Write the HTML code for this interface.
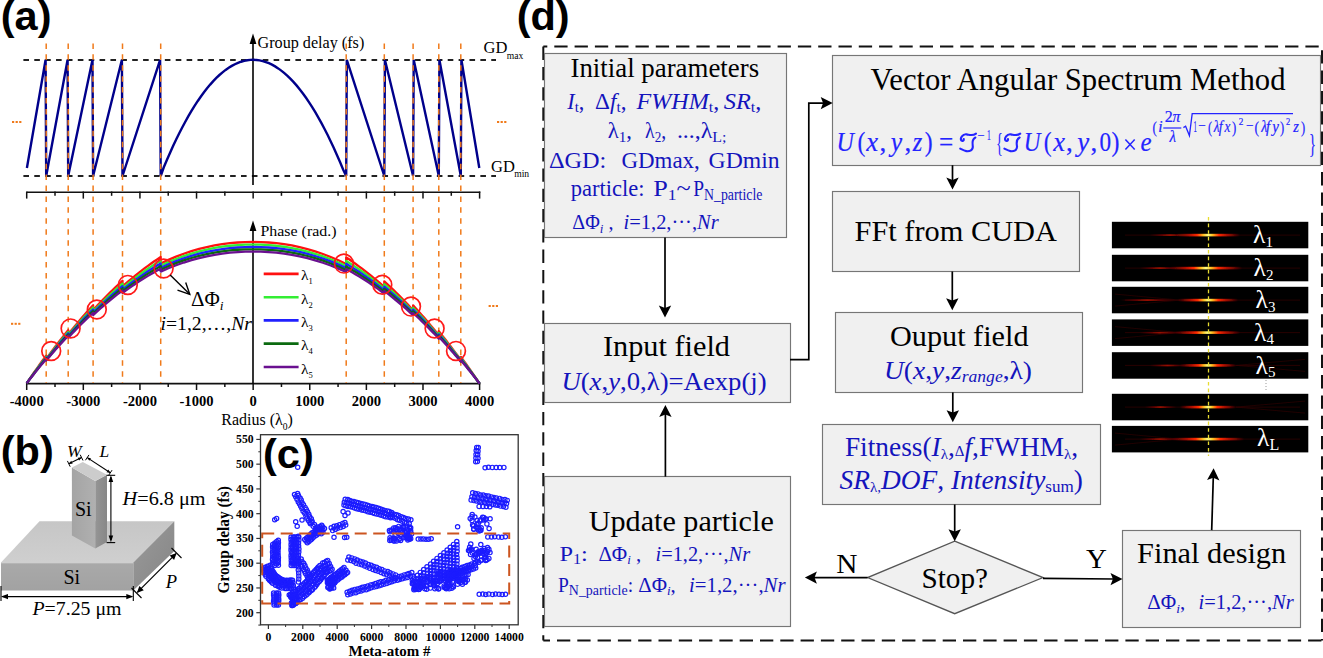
<!DOCTYPE html>
<html><head><meta charset="utf-8"><style>
html,body{margin:0;padding:0;background:#fff;width:1323px;height:658px;overflow:hidden}
svg{display:block}
</style></head><body>
<svg width="1323" height="658" viewBox="0 0 1323 658">
<rect width="1323" height="658" fill="#fff"/>
<text x="0.8" y="29.8" font-family='"Liberation Sans", sans-serif' font-size="41.5" font-weight="bold">(a)</text>
<line x1="23.40" y1="59.90" x2="496.00" y2="59.90" stroke="#222" stroke-width="2" stroke-dasharray="5.6 5.28"/>
<line x1="23.40" y1="176.00" x2="496.00" y2="176.00" stroke="#222" stroke-width="2" stroke-dasharray="5.6 5.28"/>
<line x1="253.00" y1="40.00" x2="253.00" y2="185.00" stroke="#000" stroke-width="1.6" />
<polygon points="253.00,33.50 249.60,44.00 256.40,44.00" fill="#000" stroke="none" stroke-width="0" />
<text x="257.5" y="47.5" font-family='"Liberation Serif", serif' font-size="16.3" font-weight="normal" font-style="normal" fill="#000" text-anchor="start" textLength="106.8" lengthAdjust="spacingAndGlyphs">Group delay (fs)</text>
<text x="483.5" y="52.8" font-family='"Liberation Serif", serif' font-size="16.5" font-weight="normal" font-style="normal" fill="#000" text-anchor="start" >GD</text>
<text x="506.8" y="58.6" font-family='"Liberation Serif", serif' font-size="9.6" font-weight="normal" font-style="normal" fill="#000" text-anchor="start" >max</text>
<text x="491" y="171.8" font-family='"Liberation Serif", serif' font-size="16.5" font-weight="normal" font-style="normal" fill="#000" text-anchor="start" >GD</text>
<text x="514.2" y="177.2" font-family='"Liberation Serif", serif' font-size="9.6" font-weight="normal" font-style="normal" fill="#000" text-anchor="start" >min</text>
<rect x="12.00" y="121.00" width="2.2" height="2" fill="#f07a1a"/>
<rect x="15.60" y="121.00" width="2.2" height="2" fill="#f07a1a"/>
<rect x="19.20" y="121.00" width="2.2" height="2" fill="#f07a1a"/>
<rect x="497.00" y="121.00" width="2.2" height="2" fill="#f07a1a"/>
<rect x="500.60" y="121.00" width="2.2" height="2" fill="#f07a1a"/>
<rect x="504.20" y="121.00" width="2.2" height="2" fill="#f07a1a"/>
<polyline points="26.90,168.00 45.60,59.80 46.20,176.00 67.60,59.80 68.20,176.00 92.50,59.80 93.10,176.00 121.90,59.80 122.50,176.00 160.10,59.80 160.70,176.00 163.79,167.30 166.88,159.97 169.97,152.91 173.07,146.10 176.16,139.56 179.25,133.27 182.34,127.24 185.43,121.47 188.52,115.95 191.62,110.70 194.71,105.70 197.80,100.96 200.89,96.48 203.98,92.25 207.07,88.29 210.17,84.58 213.26,81.13 216.35,77.94 219.44,75.01 222.53,72.34 225.62,69.92 228.72,67.77 231.81,65.87 234.90,64.23 237.99,62.84 241.08,61.72 244.17,60.85 247.27,60.24 250.36,59.89 253.45,59.80 256.54,59.97 259.63,60.39 262.73,61.08 265.82,62.02 268.91,63.22 272.00,64.68 275.09,66.39 278.18,68.37 281.27,70.60 284.37,73.09 287.46,75.84 290.55,78.85 293.64,82.11 296.73,85.63 299.82,89.42 302.92,93.46 306.01,97.75 309.10,102.31 312.19,107.13 315.28,112.20 318.38,117.53 321.47,123.12 324.56,128.97 327.65,135.07 330.74,141.44 333.83,148.06 336.92,154.94 340.02,162.08 343.11,169.48 346.20,176.00 346.80,59.80 384.30,176.00 384.90,59.80 413.10,176.00 413.70,59.80 438.80,176.00 439.40,59.80 460.80,176.00 461.40,59.80 479.30,168.00" stroke="#00008b" stroke-width="2.4" fill="none" stroke-linejoin="miter" stroke-miterlimit="3"/>
<line x1="26.70" y1="192.20" x2="480.30" y2="192.20" stroke="#111" stroke-width="1.6" />
<line x1="26.70" y1="191.50" x2="26.70" y2="198.60" stroke="#111" stroke-width="1.5" />
<line x1="55.01" y1="191.50" x2="55.01" y2="195.80" stroke="#111" stroke-width="1.5" />
<line x1="83.31" y1="191.50" x2="83.31" y2="198.60" stroke="#111" stroke-width="1.5" />
<line x1="111.62" y1="191.50" x2="111.62" y2="195.80" stroke="#111" stroke-width="1.5" />
<line x1="139.93" y1="191.50" x2="139.93" y2="198.60" stroke="#111" stroke-width="1.5" />
<line x1="168.23" y1="191.50" x2="168.23" y2="195.80" stroke="#111" stroke-width="1.5" />
<line x1="196.54" y1="191.50" x2="196.54" y2="198.60" stroke="#111" stroke-width="1.5" />
<line x1="224.84" y1="191.50" x2="224.84" y2="195.80" stroke="#111" stroke-width="1.5" />
<line x1="253.15" y1="191.50" x2="253.15" y2="198.60" stroke="#111" stroke-width="1.5" />
<line x1="281.46" y1="191.50" x2="281.46" y2="195.80" stroke="#111" stroke-width="1.5" />
<line x1="309.76" y1="191.50" x2="309.76" y2="198.60" stroke="#111" stroke-width="1.5" />
<line x1="338.07" y1="191.50" x2="338.07" y2="195.80" stroke="#111" stroke-width="1.5" />
<line x1="366.38" y1="191.50" x2="366.38" y2="198.60" stroke="#111" stroke-width="1.5" />
<line x1="394.68" y1="191.50" x2="394.68" y2="195.80" stroke="#111" stroke-width="1.5" />
<line x1="422.99" y1="191.50" x2="422.99" y2="198.60" stroke="#111" stroke-width="1.5" />
<line x1="451.29" y1="191.50" x2="451.29" y2="195.80" stroke="#111" stroke-width="1.5" />
<line x1="479.60" y1="191.50" x2="479.60" y2="198.60" stroke="#111" stroke-width="1.5" />
<line x1="26.70" y1="383.60" x2="480.30" y2="383.60" stroke="#111" stroke-width="1.6" />
<line x1="26.70" y1="382.90" x2="26.70" y2="390.00" stroke="#111" stroke-width="1.5" />
<line x1="55.01" y1="382.90" x2="55.01" y2="387.00" stroke="#111" stroke-width="1.5" />
<line x1="83.31" y1="382.90" x2="83.31" y2="390.00" stroke="#111" stroke-width="1.5" />
<line x1="111.62" y1="382.90" x2="111.62" y2="387.00" stroke="#111" stroke-width="1.5" />
<line x1="139.93" y1="382.90" x2="139.93" y2="390.00" stroke="#111" stroke-width="1.5" />
<line x1="168.23" y1="382.90" x2="168.23" y2="387.00" stroke="#111" stroke-width="1.5" />
<line x1="196.54" y1="382.90" x2="196.54" y2="390.00" stroke="#111" stroke-width="1.5" />
<line x1="224.84" y1="382.90" x2="224.84" y2="387.00" stroke="#111" stroke-width="1.5" />
<line x1="253.15" y1="382.90" x2="253.15" y2="390.00" stroke="#111" stroke-width="1.5" />
<line x1="281.46" y1="382.90" x2="281.46" y2="387.00" stroke="#111" stroke-width="1.5" />
<line x1="309.76" y1="382.90" x2="309.76" y2="390.00" stroke="#111" stroke-width="1.5" />
<line x1="338.07" y1="382.90" x2="338.07" y2="387.00" stroke="#111" stroke-width="1.5" />
<line x1="366.38" y1="382.90" x2="366.38" y2="390.00" stroke="#111" stroke-width="1.5" />
<line x1="394.68" y1="382.90" x2="394.68" y2="387.00" stroke="#111" stroke-width="1.5" />
<line x1="422.99" y1="382.90" x2="422.99" y2="390.00" stroke="#111" stroke-width="1.5" />
<line x1="451.29" y1="382.90" x2="451.29" y2="387.00" stroke="#111" stroke-width="1.5" />
<line x1="479.60" y1="382.90" x2="479.60" y2="390.00" stroke="#111" stroke-width="1.5" />
<text x="26.7" y="405.8" font-family='"Liberation Serif", serif' font-size="14.6" font-weight="bold" font-style="normal" fill="#000" text-anchor="middle" >-4000</text>
<text x="83.3125" y="405.8" font-family='"Liberation Serif", serif' font-size="14.6" font-weight="bold" font-style="normal" fill="#000" text-anchor="middle" >-3000</text>
<text x="139.925" y="405.8" font-family='"Liberation Serif", serif' font-size="14.6" font-weight="bold" font-style="normal" fill="#000" text-anchor="middle" >-2000</text>
<text x="196.5375" y="405.8" font-family='"Liberation Serif", serif' font-size="14.6" font-weight="bold" font-style="normal" fill="#000" text-anchor="middle" >-1000</text>
<text x="253.15" y="405.8" font-family='"Liberation Serif", serif' font-size="14.6" font-weight="bold" font-style="normal" fill="#000" text-anchor="middle" >0</text>
<text x="309.7625" y="405.8" font-family='"Liberation Serif", serif' font-size="14.6" font-weight="bold" font-style="normal" fill="#000" text-anchor="middle" >1000</text>
<text x="366.375" y="405.8" font-family='"Liberation Serif", serif' font-size="14.6" font-weight="bold" font-style="normal" fill="#000" text-anchor="middle" >2000</text>
<text x="422.9875" y="405.8" font-family='"Liberation Serif", serif' font-size="14.6" font-weight="bold" font-style="normal" fill="#000" text-anchor="middle" >3000</text>
<text x="479.6" y="405.8" font-family='"Liberation Serif", serif' font-size="14.6" font-weight="bold" font-style="normal" fill="#000" text-anchor="middle" >4000</text>
<text x="221.3" y="425.0" font-family='"Liberation Serif", serif' font-size="15.8" font-weight="normal" font-style="normal" fill="#000" text-anchor="start" textLength="71.6" lengthAdjust="spacingAndGlyphs">Radius (λ<tspan font-size="9.5" dy="4.5">0</tspan><tspan dy="-4.5">)</tspan></text>
<line x1="253.00" y1="226.00" x2="253.00" y2="383.60" stroke="#000" stroke-width="1.6" />
<polygon points="253.00,220.50 249.60,231.00 256.40,231.00" fill="#000" stroke="none" stroke-width="0" />
<text x="260.5" y="236.3" font-family='"Liberation Serif", serif' font-size="15.5" font-weight="normal" font-style="normal" fill="#000" text-anchor="start" textLength="76" lengthAdjust="spacingAndGlyphs">Phase (rad.)</text>
<line x1="46.20" y1="43.40" x2="46.20" y2="383.00" stroke="#f07a1a" stroke-width="1.5" stroke-dasharray="5.5 5.43"/>
<line x1="68.20" y1="43.40" x2="68.20" y2="383.00" stroke="#f07a1a" stroke-width="1.5" stroke-dasharray="5.5 5.43"/>
<line x1="93.10" y1="43.40" x2="93.10" y2="383.00" stroke="#f07a1a" stroke-width="1.5" stroke-dasharray="5.5 5.43"/>
<line x1="122.50" y1="43.40" x2="122.50" y2="383.00" stroke="#f07a1a" stroke-width="1.5" stroke-dasharray="5.5 5.43"/>
<line x1="160.70" y1="43.40" x2="160.70" y2="383.00" stroke="#f07a1a" stroke-width="1.5" stroke-dasharray="5.5 5.43"/>
<line x1="346.20" y1="43.40" x2="346.20" y2="383.00" stroke="#f07a1a" stroke-width="1.5" stroke-dasharray="5.5 5.43"/>
<line x1="384.30" y1="43.40" x2="384.30" y2="383.00" stroke="#f07a1a" stroke-width="1.5" stroke-dasharray="5.5 5.43"/>
<line x1="413.10" y1="43.40" x2="413.10" y2="383.00" stroke="#f07a1a" stroke-width="1.5" stroke-dasharray="5.5 5.43"/>
<line x1="438.80" y1="43.40" x2="438.80" y2="383.00" stroke="#f07a1a" stroke-width="1.5" stroke-dasharray="5.5 5.43"/>
<line x1="460.80" y1="43.40" x2="460.80" y2="383.00" stroke="#f07a1a" stroke-width="1.5" stroke-dasharray="5.5 5.43"/>
<polyline points="26.70,383.21 28.32,380.81 29.95,378.44 31.57,376.08 33.20,373.74 34.83,371.42 36.45,369.11 38.08,366.82 39.70,364.54 41.33,362.28 42.95,360.04 44.58,357.82 46.20,355.61 46.20,358.86 48.03,356.36 49.87,353.88 51.70,351.41 53.53,348.97 55.37,346.56 57.20,344.16 59.03,341.78 60.87,339.43 62.70,337.09 64.53,334.78 66.37,332.49 68.20,330.21 68.20,334.28 70.28,331.71 72.35,329.17 74.42,326.65 76.50,324.16 78.58,321.70 80.65,319.27 82.72,316.86 84.80,314.48 86.88,312.12 88.95,309.79 91.02,307.49 93.10,305.22 93.10,310.09 95.55,307.45 98.00,304.84 100.45,302.26 102.90,299.73 105.35,297.23 107.80,294.77 110.25,292.34 112.70,289.95 115.15,287.60 117.60,285.28 120.05,283.00 122.50,280.76 122.50,286.44 125.68,283.65 128.87,280.93 132.05,278.26 135.23,275.66 138.42,273.11 141.60,270.63 144.78,268.20 147.97,265.84 151.15,263.53 154.33,261.29 157.52,259.10 160.70,256.98 160.70,263.48 168.39,259.89 176.08,256.64 183.77,253.74 191.47,251.17 199.16,248.92 206.85,247.01 214.54,245.42 222.23,244.14 229.93,243.17 237.62,242.50 245.31,242.12 253.00,242.00 253.00,242.00 260.77,242.12 268.53,242.51 276.30,243.19 284.07,244.18 291.83,245.49 299.60,247.11 307.37,249.07 315.13,251.35 322.90,253.98 330.67,256.95 338.43,260.26 346.20,263.92 346.20,257.42 349.38,259.56 352.55,261.75 355.73,264.01 358.90,266.33 362.07,268.70 365.25,271.14 368.43,273.64 371.60,276.19 374.77,278.81 377.95,281.48 381.12,284.22 384.30,287.02 384.30,281.33 386.70,283.55 389.10,285.80 391.50,288.09 393.90,290.42 396.30,292.77 398.70,295.17 401.10,297.60 403.50,300.06 405.90,302.56 408.30,305.10 410.70,307.67 413.10,310.27 413.10,305.40 415.24,307.73 417.38,310.10 419.53,312.50 421.67,314.92 423.81,317.37 425.95,319.85 428.09,322.36 430.23,324.90 432.38,327.46 434.52,330.05 436.66,332.68 438.80,335.33 438.80,331.27 440.63,333.55 442.47,335.85 444.30,338.18 446.13,340.52 447.97,342.89 449.80,345.28 451.63,347.69 453.47,350.12 455.30,352.57 457.13,355.04 458.97,357.54 460.80,360.05 460.80,356.80 462.37,358.95 463.93,361.11 465.50,363.29 467.07,365.49 468.63,367.70 470.20,369.92 471.77,372.16 473.33,374.42 474.90,376.69 476.47,378.98 478.03,381.28 479.60,383.60" stroke="#ff1010" stroke-width="2.3" fill="none" stroke-linejoin="round"/>
<polyline points="26.70,383.21 28.32,380.92 29.95,378.63 31.57,376.37 33.20,374.12 34.83,371.89 36.45,369.67 38.08,367.47 39.70,365.29 41.33,363.12 42.95,360.97 44.58,358.83 46.20,356.72 46.20,359.32 48.03,356.92 49.87,354.54 51.70,352.19 53.53,349.86 55.37,347.54 57.20,345.25 59.03,342.98 60.87,340.73 62.70,338.50 64.53,336.29 66.37,334.10 68.20,331.93 68.20,335.18 70.28,332.73 72.35,330.31 74.42,327.92 76.50,325.55 78.58,323.21 80.65,320.89 82.72,318.60 84.80,316.34 86.88,314.10 88.95,311.89 91.02,309.70 93.10,307.54 93.10,311.44 95.55,308.93 98.00,306.45 100.45,304.02 102.90,301.61 105.35,299.24 107.80,296.91 110.25,294.62 112.70,292.36 115.15,290.13 117.60,287.95 120.05,285.79 122.50,283.68 122.50,288.23 125.68,285.59 128.87,283.01 132.05,280.49 135.23,278.03 138.42,275.63 141.60,273.29 144.78,271.01 147.97,268.79 151.15,266.62 154.33,264.52 157.52,262.47 160.70,260.48 160.70,265.68 168.39,262.16 176.08,258.98 183.77,256.12 191.47,253.60 199.16,251.40 206.85,249.52 214.54,247.95 222.23,246.70 229.93,245.75 237.62,245.09 245.31,244.71 253.00,244.60 253.00,244.60 260.77,244.72 268.53,245.10 276.30,245.77 284.07,246.74 291.83,248.02 299.60,249.62 307.37,251.54 315.13,253.78 322.90,256.36 330.67,259.27 338.43,262.52 346.20,266.12 346.20,260.92 349.38,262.92 352.55,264.98 355.73,267.09 358.90,269.27 362.07,271.50 365.25,273.80 368.43,276.15 371.60,278.56 374.77,281.03 377.95,283.55 381.12,286.14 384.30,288.79 384.30,284.24 386.70,286.33 389.10,288.46 391.50,290.62 393.90,292.82 396.30,295.04 398.70,297.31 401.10,299.61 403.50,301.94 405.90,304.31 408.30,306.71 410.70,309.15 413.10,311.62 413.10,307.72 415.24,309.94 417.38,312.19 419.53,314.47 421.67,316.77 423.81,319.10 425.95,321.46 428.09,323.85 430.23,326.27 432.38,328.71 434.52,331.19 436.66,333.69 438.80,336.21 438.80,332.96 440.63,335.14 442.47,337.34 444.30,339.57 446.13,341.81 447.97,344.07 449.80,346.35 451.63,348.66 453.47,350.98 455.30,353.32 457.13,355.69 458.97,358.08 460.80,360.48 460.80,357.88 462.37,359.94 463.93,362.02 465.50,364.11 467.07,366.21 468.63,368.33 470.20,370.47 471.77,372.62 473.33,374.78 474.90,376.96 476.47,379.16 478.03,381.37 479.60,383.60" stroke="#33ee33" stroke-width="2.3" fill="none" stroke-linejoin="round"/>
<polyline points="26.70,383.22 28.32,381.00 29.95,378.79 31.57,376.59 33.20,374.42 34.83,372.26 36.45,370.11 38.08,367.98 39.70,365.87 41.33,363.78 42.95,361.70 44.58,359.63 46.20,357.59 46.20,359.74 48.03,357.42 49.87,355.13 51.70,352.86 53.53,350.61 55.37,348.38 57.20,346.17 59.03,343.98 60.87,341.81 62.70,339.66 64.53,337.53 66.37,335.42 68.20,333.33 68.20,336.02 70.28,333.66 72.35,331.33 74.42,329.03 76.50,326.75 78.58,324.50 80.65,322.28 82.72,320.08 84.80,317.90 86.88,315.75 88.95,313.63 91.02,311.53 93.10,309.46 93.10,312.69 95.55,310.28 98.00,307.90 100.45,305.57 102.90,303.26 105.35,301.00 107.80,298.76 110.25,296.57 112.70,294.41 115.15,292.28 117.60,290.19 120.05,288.13 122.50,286.11 122.50,289.87 125.68,287.35 128.87,284.88 132.05,282.47 135.23,280.12 138.42,277.83 141.60,275.60 144.78,273.43 147.97,271.31 151.15,269.25 154.33,267.25 157.52,265.30 160.70,263.42 160.70,267.72 168.39,264.26 176.08,261.13 183.77,258.32 191.47,255.84 199.16,253.68 206.85,251.83 214.54,250.30 222.23,249.06 229.93,248.13 237.62,247.48 245.31,247.11 253.00,247.00 253.00,247.00 260.77,247.11 268.53,247.49 276.30,248.15 284.07,249.10 291.83,250.36 299.60,251.93 307.37,253.82 315.13,256.02 322.90,258.56 330.67,261.42 338.43,264.61 346.20,268.14 346.20,263.84 349.38,265.74 352.55,267.70 355.73,269.71 358.90,271.78 362.07,273.91 365.25,276.10 368.43,278.34 371.60,280.64 374.77,283.00 377.95,285.42 381.12,287.89 384.30,290.43 384.30,286.66 386.70,288.66 389.10,290.69 391.50,292.76 393.90,294.86 396.30,296.99 398.70,299.15 401.10,301.35 403.50,303.59 405.90,305.85 408.30,308.16 410.70,310.49 413.10,312.86 413.10,309.64 415.24,311.77 417.38,313.93 419.53,316.12 421.67,318.33 423.81,320.57 425.95,322.84 428.09,325.14 430.23,327.46 432.38,329.81 434.52,332.19 436.66,334.60 438.80,337.03 438.80,334.35 440.63,336.45 442.47,338.56 444.30,340.71 446.13,342.87 447.97,345.05 449.80,347.25 451.63,349.47 453.47,351.71 455.30,353.97 457.13,356.26 458.97,358.56 460.80,360.88 460.80,358.73 462.37,360.72 463.93,362.73 465.50,364.75 467.07,366.78 468.63,368.83 470.20,370.90 471.77,372.98 473.33,375.07 474.90,377.18 476.47,379.31 478.03,381.45 479.60,383.60" stroke="#2020ff" stroke-width="2.3" fill="none" stroke-linejoin="round"/>
<polyline points="26.70,383.23 28.32,381.07 29.95,378.92 31.57,376.79 33.20,374.68 34.83,372.58 36.45,370.50 38.08,368.43 39.70,366.38 41.33,364.35 42.95,362.33 44.58,360.32 46.20,358.34 46.20,360.14 48.03,357.90 49.87,355.68 51.70,353.47 53.53,351.29 55.37,349.13 57.20,346.99 59.03,344.87 60.87,342.77 62.70,340.69 64.53,338.63 66.37,336.59 68.20,334.57 68.20,336.82 70.28,334.54 72.35,332.29 74.42,330.07 76.50,327.87 78.58,325.69 80.65,323.55 82.72,321.42 84.80,319.32 86.88,317.25 88.95,315.20 91.02,313.18 93.10,311.18 93.10,313.88 95.55,311.56 98.00,309.27 100.45,307.02 102.90,304.80 105.35,302.62 107.80,300.47 110.25,298.35 112.70,296.27 115.15,294.23 117.60,292.22 120.05,290.24 122.50,288.30 122.50,291.45 125.68,289.02 128.87,286.65 132.05,284.33 135.23,282.08 138.42,279.88 141.60,277.73 144.78,275.65 147.97,273.62 151.15,271.65 154.33,269.73 157.52,267.87 160.70,266.07 160.70,269.67 168.39,266.27 176.08,263.19 183.77,260.43 191.47,257.99 199.16,255.87 206.85,254.05 214.54,252.54 222.23,251.33 229.93,250.41 237.62,249.77 245.31,249.41 253.00,249.30 253.00,249.30 260.77,249.41 268.53,249.78 276.30,250.43 284.07,251.37 291.83,252.61 299.60,254.15 307.37,256.00 315.13,258.17 322.90,260.66 330.67,263.47 338.43,266.62 346.20,270.09 346.20,266.49 349.38,268.30 352.55,270.17 355.73,272.10 358.90,274.08 362.07,276.12 365.25,278.22 368.43,280.37 371.60,282.58 374.77,284.85 377.95,287.17 381.12,289.56 384.30,292.00 384.30,288.85 386.70,290.76 389.10,292.71 391.50,294.70 393.90,296.72 396.30,298.77 398.70,300.85 401.10,302.97 403.50,305.12 405.90,307.30 408.30,309.52 410.70,311.77 413.10,314.05 413.10,311.35 415.24,313.41 417.38,315.49 419.53,317.60 421.67,319.74 423.81,321.91 425.95,324.10 428.09,326.32 430.23,328.56 432.38,330.84 434.52,333.14 436.66,335.46 438.80,337.82 438.80,335.57 440.63,337.60 442.47,339.65 444.30,341.72 446.13,343.81 447.97,345.92 449.80,348.06 451.63,350.21 453.47,352.38 455.30,354.57 457.13,356.78 458.97,359.01 460.80,361.27 460.80,359.47 462.37,361.40 463.93,363.34 465.50,365.30 467.07,367.27 468.63,369.26 470.20,371.27 471.77,373.29 473.33,375.32 474.90,377.37 476.47,379.43 478.03,381.51 479.60,383.60" stroke="#0b6a10" stroke-width="2.3" fill="none" stroke-linejoin="round"/>
<polyline points="26.70,383.23 28.32,381.13 29.95,379.04 31.57,376.97 33.20,374.92 34.83,372.88 36.45,370.86 38.08,368.85 39.70,366.85 41.33,364.88 42.95,362.92 44.58,360.97 46.20,359.04 46.20,360.54 48.03,358.36 49.87,356.21 51.70,354.08 53.53,351.96 55.37,349.86 57.20,347.79 59.03,345.73 60.87,343.70 62.70,341.68 64.53,339.68 66.37,337.70 68.20,335.75 68.20,337.62 70.28,335.42 72.35,333.24 74.42,331.09 76.50,328.96 78.58,326.85 80.65,324.78 82.72,322.72 84.80,320.69 86.88,318.69 88.95,316.71 91.02,314.76 93.10,312.83 93.10,315.08 95.55,312.83 98.00,310.62 100.45,308.45 102.90,306.31 105.35,304.20 107.80,302.13 110.25,300.09 112.70,298.08 115.15,296.11 117.60,294.18 120.05,292.27 122.50,290.40 122.50,293.03 125.68,290.69 128.87,288.40 132.05,286.17 135.23,283.99 138.42,281.88 141.60,279.82 144.78,277.81 147.97,275.86 151.15,273.97 154.33,272.13 157.52,270.35 160.70,268.62 160.70,271.62 168.39,268.28 176.08,265.25 183.77,262.54 191.47,260.14 199.16,258.05 206.85,256.27 214.54,254.78 222.23,253.59 229.93,252.69 237.62,252.06 245.31,251.71 253.00,251.60 253.00,251.60 260.77,251.71 268.53,252.07 276.30,252.71 284.07,253.63 291.83,254.85 299.60,256.37 307.37,258.19 315.13,260.32 322.90,262.77 330.67,265.53 338.43,268.62 346.20,272.03 346.20,269.03 349.38,270.77 352.55,272.56 355.73,274.41 358.90,276.32 362.07,278.28 365.25,280.29 368.43,282.37 371.60,284.49 374.77,286.68 377.95,288.92 381.12,291.21 384.30,293.56 384.30,290.94 386.70,292.79 389.10,294.66 391.50,296.57 393.90,298.52 396.30,300.49 398.70,302.50 401.10,304.54 403.50,306.62 405.90,308.72 408.30,310.86 410.70,313.04 413.10,315.24 413.10,312.99 415.24,314.98 417.38,317.00 419.53,319.04 421.67,321.11 423.81,323.20 425.95,325.32 428.09,327.47 430.23,329.64 432.38,331.84 434.52,334.07 436.66,336.32 438.80,338.60 438.80,336.73 440.63,338.69 442.47,340.68 444.30,342.69 446.13,344.72 447.97,346.77 449.80,348.83 451.63,350.92 453.47,353.03 455.30,355.15 457.13,357.30 458.97,359.46 460.80,361.65 460.80,360.15 462.37,362.02 463.93,363.91 465.50,365.82 467.07,367.73 468.63,369.67 470.20,371.61 471.77,373.57 473.33,375.55 474.90,377.54 476.47,379.55 478.03,381.57 479.60,383.60" stroke="#6a1090" stroke-width="2.3" fill="none" stroke-linejoin="round"/>
<line x1="263.70" y1="273.90" x2="298.60" y2="273.90" stroke="#ff1010" stroke-width="2.6" />
<text x="301" y="280.4" font-family='"Liberation Serif", serif' font-size="15.5" font-weight="normal" font-style="normal" fill="#000" text-anchor="start" >λ<tspan font-size="8.5" dy="4">1</tspan></text>
<line x1="263.70" y1="297.20" x2="298.60" y2="297.20" stroke="#33ee33" stroke-width="2.6" />
<text x="301" y="303.7" font-family='"Liberation Serif", serif' font-size="15.5" font-weight="normal" font-style="normal" fill="#000" text-anchor="start" >λ<tspan font-size="8.5" dy="4">2</tspan></text>
<line x1="263.70" y1="320.40" x2="298.60" y2="320.40" stroke="#2020ff" stroke-width="2.6" />
<text x="301" y="326.9" font-family='"Liberation Serif", serif' font-size="15.5" font-weight="normal" font-style="normal" fill="#000" text-anchor="start" >λ<tspan font-size="8.5" dy="4">3</tspan></text>
<line x1="263.70" y1="343.60" x2="298.60" y2="343.60" stroke="#0b6a10" stroke-width="2.6" />
<text x="301" y="350.1" font-family='"Liberation Serif", serif' font-size="15.5" font-weight="normal" font-style="normal" fill="#000" text-anchor="start" >λ<tspan font-size="8.5" dy="4">4</tspan></text>
<line x1="263.70" y1="367.00" x2="298.60" y2="367.00" stroke="#6a1090" stroke-width="2.6" />
<text x="301" y="373.5" font-family='"Liberation Serif", serif' font-size="15.5" font-weight="normal" font-style="normal" fill="#000" text-anchor="start" >λ<tspan font-size="8.5" dy="4">5</tspan></text>
<circle cx="51.2" cy="351" r="9.4" fill="none" stroke="#ff1a1a" stroke-width="1.7"/>
<circle cx="70.6" cy="328.4" r="9.4" fill="none" stroke="#ff1a1a" stroke-width="1.7"/>
<circle cx="96.8" cy="309.5" r="9.4" fill="none" stroke="#ff1a1a" stroke-width="1.7"/>
<circle cx="127.8" cy="284.9" r="9.4" fill="none" stroke="#ff1a1a" stroke-width="1.7"/>
<circle cx="163.6" cy="268.5" r="9.4" fill="none" stroke="#ff1a1a" stroke-width="1.7"/>
<circle cx="343.9" cy="263.6" r="9.4" fill="none" stroke="#ff1a1a" stroke-width="1.7"/>
<circle cx="382.3" cy="284.7" r="9.4" fill="none" stroke="#ff1a1a" stroke-width="1.7"/>
<circle cx="411" cy="306.6" r="9.4" fill="none" stroke="#ff1a1a" stroke-width="1.7"/>
<circle cx="434.6" cy="328.5" r="9.4" fill="none" stroke="#ff1a1a" stroke-width="1.7"/>
<circle cx="456" cy="350.9" r="9.4" fill="none" stroke="#ff1a1a" stroke-width="1.7"/>
<line x1="170.20" y1="275.10" x2="189.80" y2="294.30" stroke="#000" stroke-width="1.4" />
<polyline points="177.50,290.20 189.80,294.30 185.70,282.40" stroke="#000" stroke-width="1.4" fill="none" />
<text x="191.0" y="306" font-family='"Liberation Serif", serif' font-size="20" font-weight="normal" font-style="normal" fill="#000" text-anchor="start" textLength="32.5" lengthAdjust="spacingAndGlyphs">ΔΦ<tspan font-style="italic" font-size="13" dy="3.5">i</tspan></text>
<text x="160.5" y="330" font-family='"Liberation Serif", serif' font-size="19" font-weight="normal" font-style="normal" fill="#000" text-anchor="start" textLength="91.5" lengthAdjust="spacingAndGlyphs"><tspan font-style="italic">i</tspan>=1,2,…,<tspan font-style="italic">Nr</tspan></text>
<rect x="11.00" y="322.80" width="2.2" height="2" fill="#f07a1a"/>
<rect x="14.60" y="322.80" width="2.2" height="2" fill="#f07a1a"/>
<rect x="18.20" y="322.80" width="2.2" height="2" fill="#f07a1a"/>
<rect x="488.60" y="305.00" width="2.2" height="2" fill="#f07a1a"/>
<rect x="492.20" y="305.00" width="2.2" height="2" fill="#f07a1a"/>
<rect x="495.80" y="305.00" width="2.2" height="2" fill="#f07a1a"/>
<text x="0.8" y="465.0" font-family='"Liberation Sans", sans-serif' font-size="41.5" font-weight="bold">(b)</text>
<defs><linearGradient id="gTop" x1="0" y1="0" x2="0" y2="1"><stop offset="0" stop-color="#c6c6c6"/><stop offset="1" stop-color="#cfcfcf"/></linearGradient><linearGradient id="gRight" x1="0" y1="0" x2="1" y2="1"><stop offset="0" stop-color="#9a9a9a"/><stop offset="1" stop-color="#858585"/></linearGradient><linearGradient id="gFront" x1="0" y1="0" x2="0" y2="1"><stop offset="0" stop-color="#a9a9a9"/><stop offset="1" stop-color="#a2a2a2"/></linearGradient><linearGradient id="pFront" x1="0" y1="0" x2="1" y2="0"><stop offset="0" stop-color="#a4a4a4"/><stop offset="1" stop-color="#b0b0b0"/></linearGradient><linearGradient id="pRight" x1="0" y1="0" x2="1" y2="0"><stop offset="0" stop-color="#959595"/><stop offset="1" stop-color="#878787"/></linearGradient></defs>
<polygon points="1.00,562.50 39.50,521.30 174.30,521.30 133.30,562.50" fill="url(#gTop)" stroke="none" stroke-width="0" />
<polygon points="1.00,562.50 133.30,562.50 133.30,590.50 1.00,590.50" fill="url(#gFront)" stroke="none" stroke-width="0" />
<polygon points="133.30,562.50 174.30,521.30 174.30,550.90 133.30,590.50" fill="url(#gRight)" stroke="none" stroke-width="0" />
<line x1="1.00" y1="562.80" x2="133.30" y2="562.80" stroke="#d2d2d2" stroke-width="1" />
<polygon points="71.90,467.40 95.30,481.00 95.30,548.60 71.90,535.50" fill="url(#pFront)" stroke="none" stroke-width="0" />
<polygon points="95.30,481.00 107.00,474.70 107.00,542.00 95.30,548.60" fill="url(#pRight)" stroke="none" stroke-width="0" />
<polygon points="71.90,467.40 82.80,461.90 107.00,474.70 95.30,481.00" fill="#cccccc" stroke="none" stroke-width="0" />
<text x="75" y="516" font-family='"Liberation Serif", serif' font-size="20" font-weight="normal" font-style="normal" fill="#000" text-anchor="start" >Si</text>
<text x="63.5" y="583.6" font-family='"Liberation Serif", serif' font-size="20" font-weight="normal" font-style="normal" fill="#000" text-anchor="start" >Si</text>
<line x1="68.80" y1="463.80" x2="81.60" y2="457.60" stroke="#000" stroke-width="1.1" />
<line x1="87.20" y1="457.60" x2="110.30" y2="472.80" stroke="#000" stroke-width="1.1" />
<line x1="67.41" y1="460.92" x2="70.19" y2="466.68" stroke="#000" stroke-width="1.0" />
<line x1="80.21" y1="454.72" x2="82.99" y2="460.48" stroke="#000" stroke-width="1.0" />
<line x1="88.96" y1="454.93" x2="85.44" y2="460.27" stroke="#000" stroke-width="1.0" />
<line x1="112.06" y1="470.13" x2="108.54" y2="475.47" stroke="#000" stroke-width="1.0" />
<polygon points="68.80,463.80 71.25,460.83 71.95,462.27 72.65,463.71" fill="#000" stroke="none" stroke-width="0" />
<polygon points="81.60,457.60 79.15,460.57 78.45,459.13 77.75,457.69" fill="#000" stroke="none" stroke-width="0" />
<polygon points="87.20,457.60 91.00,458.19 90.12,459.52 89.24,460.86" fill="#000" stroke="none" stroke-width="0" />
<polygon points="110.30,472.80 106.50,472.21 107.38,470.88 108.26,469.54" fill="#000" stroke="none" stroke-width="0" />
<text x="67" y="457.3" font-family='"Liberation Serif", serif' font-size="17.5" font-weight="normal" font-style="italic" fill="#000" text-anchor="start" >W</text>
<text x="99.5" y="457.3" font-family='"Liberation Serif", serif' font-size="17.5" font-weight="normal" font-style="italic" fill="#000" text-anchor="start" >L</text>
<line x1="110.90" y1="477.00" x2="110.90" y2="540.00" stroke="#000" stroke-width="1.1" />
<polygon points="110.90,475.30 108.60,482.00 113.20,482.00" fill="#000" stroke="none" stroke-width="0" />
<polygon points="110.90,542.20 108.60,535.50 113.20,535.50" fill="#000" stroke="none" stroke-width="0" />
<line x1="106.60" y1="475.30" x2="115.20" y2="475.30" stroke="#000" stroke-width="1.1" />
<line x1="106.60" y1="542.60" x2="115.20" y2="542.60" stroke="#000" stroke-width="1.1" />
<text x="122.6" y="504.7" font-family='"Liberation Serif", serif' font-size="18.5" font-weight="normal" font-style="normal" fill="#000" text-anchor="start" textLength="83" lengthAdjust="spacingAndGlyphs"><tspan font-style="italic">H</tspan>=6.8 μm</text>
<line x1="2.50" y1="596.60" x2="131.80" y2="596.60" stroke="#000" stroke-width="1.2" />
<polygon points="1.00,596.60 8.00,594.00 8.00,599.20" fill="#000" stroke="none" stroke-width="0" />
<polygon points="133.30,596.60 126.30,594.00 126.30,599.20" fill="#000" stroke="none" stroke-width="0" />
<line x1="1.00" y1="586.00" x2="1.00" y2="601.00" stroke="#000" stroke-width="1.1" />
<line x1="133.30" y1="586.00" x2="133.30" y2="601.00" stroke="#000" stroke-width="1.1" />
<text x="32.5" y="614.8" font-family='"Liberation Serif", serif' font-size="18.5" font-weight="normal" font-style="normal" fill="#000" text-anchor="start" textLength="89" lengthAdjust="spacingAndGlyphs"><tspan font-style="italic">P</tspan>=7.25 μm</text>
<line x1="137.50" y1="592.20" x2="176.00" y2="553.70" stroke="#000" stroke-width="1.2" />
<polygon points="136.80,592.90 139.40,585.90 143.80,590.30" fill="#000" stroke="none" stroke-width="0" />
<polygon points="176.70,553.00 174.10,560.00 169.70,555.60" fill="#000" stroke="none" stroke-width="0" />
<line x1="131.50" y1="588.00" x2="141.50" y2="598.00" stroke="#000" stroke-width="1.1" />
<line x1="171.50" y1="548.00" x2="181.50" y2="558.00" stroke="#000" stroke-width="1.1" />
<text x="165.8" y="588.4" font-family='"Liberation Serif", serif' font-size="18.5" font-weight="normal" font-style="italic" fill="#000" text-anchor="start" >P</text>
<g fill="none" stroke="#1c1cff" stroke-width="1.2">
<circle cx="272.7" cy="544.6" r="2.15"/>
<circle cx="272.6" cy="547.1" r="2.15"/>
<circle cx="272.9" cy="549.6" r="2.15"/>
<circle cx="272.5" cy="552.1" r="2.15"/>
<circle cx="272.8" cy="554.6" r="2.15"/>
<circle cx="272.7" cy="557.1" r="2.15"/>
<circle cx="272.5" cy="559.6" r="2.15"/>
<circle cx="272.8" cy="562.1" r="2.15"/>
<circle cx="272.5" cy="564.6" r="2.15"/>
<circle cx="274.8" cy="543.0" r="2.15"/>
<circle cx="274.5" cy="545.5" r="2.15"/>
<circle cx="274.6" cy="548.0" r="2.15"/>
<circle cx="274.8" cy="550.5" r="2.15"/>
<circle cx="275.0" cy="553.0" r="2.15"/>
<circle cx="274.6" cy="555.5" r="2.15"/>
<circle cx="274.6" cy="558.0" r="2.15"/>
<circle cx="274.9" cy="560.5" r="2.15"/>
<circle cx="275.1" cy="563.0" r="2.15"/>
<circle cx="274.8" cy="565.5" r="2.15"/>
<circle cx="276.7" cy="541.4" r="2.15"/>
<circle cx="277.1" cy="543.9" r="2.15"/>
<circle cx="276.5" cy="546.4" r="2.15"/>
<circle cx="277.0" cy="548.9" r="2.15"/>
<circle cx="276.7" cy="551.4" r="2.15"/>
<circle cx="276.6" cy="553.9" r="2.15"/>
<circle cx="276.6" cy="556.4" r="2.15"/>
<circle cx="276.7" cy="558.9" r="2.15"/>
<circle cx="277.0" cy="561.4" r="2.15"/>
<circle cx="276.6" cy="563.9" r="2.15"/>
<circle cx="278.3" cy="540.2" r="2.15"/>
<circle cx="278.4" cy="542.7" r="2.15"/>
<circle cx="278.2" cy="545.2" r="2.15"/>
<circle cx="278.3" cy="547.7" r="2.15"/>
<circle cx="278.0" cy="550.2" r="2.15"/>
<circle cx="278.0" cy="552.7" r="2.15"/>
<circle cx="278.1" cy="555.2" r="2.15"/>
<circle cx="278.4" cy="557.7" r="2.15"/>
<circle cx="278.3" cy="560.2" r="2.15"/>
<circle cx="278.2" cy="562.7" r="2.15"/>
<circle cx="278.4" cy="565.2" r="2.15"/>
<circle cx="270.1" cy="565.3" r="2.15"/>
<circle cx="271.0" cy="567.0" r="2.15"/>
<circle cx="271.3" cy="568.5" r="2.15"/>
<circle cx="272.2" cy="570.2" r="2.15"/>
<circle cx="273.0" cy="571.4" r="2.15"/>
<circle cx="273.8" cy="572.8" r="2.15"/>
<circle cx="273.7" cy="573.2" r="2.15"/>
<circle cx="274.7" cy="574.2" r="2.15"/>
<circle cx="275.8" cy="575.5" r="2.15"/>
<circle cx="277.4" cy="576.6" r="2.15"/>
<circle cx="278.7" cy="577.7" r="2.15"/>
<circle cx="278.7" cy="577.8" r="2.15"/>
<circle cx="280.2" cy="578.4" r="2.15"/>
<circle cx="281.9" cy="579.4" r="2.15"/>
<circle cx="283.2" cy="579.9" r="2.15"/>
<circle cx="284.4" cy="580.6" r="2.15"/>
<circle cx="284.6" cy="580.8" r="2.15"/>
<circle cx="286.3" cy="580.2" r="2.15"/>
<circle cx="287.7" cy="580.4" r="2.15"/>
<circle cx="289.2" cy="580.2" r="2.15"/>
<circle cx="290.9" cy="579.9" r="2.15"/>
<circle cx="292.5" cy="580.2" r="2.15"/>
<circle cx="267.5" cy="566.3" r="2.15"/>
<circle cx="268.3" cy="568.2" r="2.15"/>
<circle cx="268.8" cy="569.5" r="2.15"/>
<circle cx="269.8" cy="571.3" r="2.15"/>
<circle cx="270.6" cy="572.8" r="2.15"/>
<circle cx="270.9" cy="574.0" r="2.15"/>
<circle cx="271.7" cy="575.2" r="2.15"/>
<circle cx="273.3" cy="575.9" r="2.15"/>
<circle cx="274.0" cy="577.1" r="2.15"/>
<circle cx="275.2" cy="578.5" r="2.15"/>
<circle cx="276.6" cy="579.5" r="2.15"/>
<circle cx="277.2" cy="580.2" r="2.15"/>
<circle cx="279.0" cy="580.9" r="2.15"/>
<circle cx="280.9" cy="581.7" r="2.15"/>
<circle cx="282.1" cy="582.3" r="2.15"/>
<circle cx="283.7" cy="582.6" r="2.15"/>
<circle cx="284.9" cy="583.3" r="2.15"/>
<circle cx="286.5" cy="583.2" r="2.15"/>
<circle cx="287.9" cy="582.9" r="2.15"/>
<circle cx="289.4" cy="582.9" r="2.15"/>
<circle cx="291.0" cy="582.5" r="2.15"/>
<circle cx="292.8" cy="582.5" r="2.15"/>
<circle cx="265.2" cy="567.3" r="2.15"/>
<circle cx="265.6" cy="568.9" r="2.15"/>
<circle cx="266.4" cy="570.5" r="2.15"/>
<circle cx="267.0" cy="572.3" r="2.15"/>
<circle cx="268.0" cy="573.4" r="2.15"/>
<circle cx="268.5" cy="575.1" r="2.15"/>
<circle cx="269.9" cy="576.6" r="2.15"/>
<circle cx="271.3" cy="578.3" r="2.15"/>
<circle cx="272.3" cy="579.2" r="2.15"/>
<circle cx="273.2" cy="580.1" r="2.15"/>
<circle cx="274.6" cy="581.4" r="2.15"/>
<circle cx="276.7" cy="582.5" r="2.15"/>
<circle cx="277.7" cy="583.6" r="2.15"/>
<circle cx="279.5" cy="583.8" r="2.15"/>
<circle cx="281.1" cy="584.4" r="2.15"/>
<circle cx="282.6" cy="585.6" r="2.15"/>
<circle cx="285.0" cy="585.9" r="2.15"/>
<circle cx="286.3" cy="585.6" r="2.15"/>
<circle cx="287.9" cy="585.8" r="2.15"/>
<circle cx="289.8" cy="585.7" r="2.15"/>
<circle cx="291.3" cy="585.3" r="2.15"/>
<circle cx="293.3" cy="585.6" r="2.15"/>
<circle cx="263.0" cy="568.8" r="2.15"/>
<circle cx="263.7" cy="570.3" r="2.15"/>
<circle cx="264.0" cy="571.7" r="2.15"/>
<circle cx="264.8" cy="572.9" r="2.15"/>
<circle cx="265.2" cy="574.6" r="2.15"/>
<circle cx="266.0" cy="576.3" r="2.15"/>
<circle cx="268.3" cy="578.7" r="2.15"/>
<circle cx="269.5" cy="580.2" r="2.15"/>
<circle cx="270.7" cy="581.0" r="2.15"/>
<circle cx="271.4" cy="582.1" r="2.15"/>
<circle cx="272.6" cy="583.2" r="2.15"/>
<circle cx="275.5" cy="585.3" r="2.15"/>
<circle cx="277.1" cy="585.8" r="2.15"/>
<circle cx="278.5" cy="586.6" r="2.15"/>
<circle cx="279.7" cy="587.2" r="2.15"/>
<circle cx="281.7" cy="587.9" r="2.15"/>
<circle cx="285.1" cy="588.4" r="2.15"/>
<circle cx="286.4" cy="588.5" r="2.15"/>
<circle cx="288.1" cy="588.5" r="2.15"/>
<circle cx="290.2" cy="588.1" r="2.15"/>
<circle cx="291.5" cy="588.4" r="2.15"/>
<circle cx="293.4" cy="587.8" r="2.15"/>
<circle cx="273.6" cy="593.0" r="2.15"/>
<circle cx="273.6" cy="595.0" r="2.15"/>
<circle cx="274.0" cy="597.0" r="2.15"/>
<circle cx="274.0" cy="599.0" r="2.15"/>
<circle cx="273.6" cy="601.0" r="2.15"/>
<circle cx="274.0" cy="603.0" r="2.15"/>
<circle cx="274.1" cy="605.0" r="2.15"/>
<circle cx="276.6" cy="593.0" r="2.15"/>
<circle cx="276.4" cy="595.0" r="2.15"/>
<circle cx="276.5" cy="597.0" r="2.15"/>
<circle cx="276.3" cy="599.0" r="2.15"/>
<circle cx="276.2" cy="601.0" r="2.15"/>
<circle cx="276.8" cy="603.0" r="2.15"/>
<circle cx="276.6" cy="605.0" r="2.15"/>
<circle cx="278.5" cy="593.0" r="2.15"/>
<circle cx="278.8" cy="595.0" r="2.15"/>
<circle cx="278.5" cy="597.0" r="2.15"/>
<circle cx="278.7" cy="599.0" r="2.15"/>
<circle cx="278.7" cy="601.0" r="2.15"/>
<circle cx="278.3" cy="603.0" r="2.15"/>
<circle cx="278.4" cy="605.0" r="2.15"/>
<circle cx="274.7" cy="519.8" r="2.15"/>
<circle cx="276.6" cy="518.4" r="2.15"/>
<circle cx="291.1" cy="537.0" r="2.15"/>
<circle cx="291.0" cy="539.6" r="2.15"/>
<circle cx="291.3" cy="542.2" r="2.15"/>
<circle cx="291.1" cy="544.8" r="2.15"/>
<circle cx="291.2" cy="547.4" r="2.15"/>
<circle cx="291.0" cy="550.0" r="2.15"/>
<circle cx="291.4" cy="552.6" r="2.15"/>
<circle cx="291.1" cy="555.2" r="2.15"/>
<circle cx="291.2" cy="557.8" r="2.15"/>
<circle cx="291.3" cy="560.4" r="2.15"/>
<circle cx="291.4" cy="563.0" r="2.15"/>
<circle cx="291.2" cy="565.6" r="2.15"/>
<circle cx="293.3" cy="537.0" r="2.15"/>
<circle cx="293.0" cy="539.6" r="2.15"/>
<circle cx="293.0" cy="542.2" r="2.15"/>
<circle cx="293.0" cy="544.8" r="2.15"/>
<circle cx="292.7" cy="547.4" r="2.15"/>
<circle cx="293.0" cy="550.0" r="2.15"/>
<circle cx="292.8" cy="552.6" r="2.15"/>
<circle cx="292.7" cy="555.2" r="2.15"/>
<circle cx="293.2" cy="557.8" r="2.15"/>
<circle cx="292.8" cy="560.4" r="2.15"/>
<circle cx="293.0" cy="563.0" r="2.15"/>
<circle cx="293.1" cy="565.6" r="2.15"/>
<circle cx="294.8" cy="537.0" r="2.15"/>
<circle cx="294.7" cy="539.6" r="2.15"/>
<circle cx="294.8" cy="542.2" r="2.15"/>
<circle cx="294.8" cy="544.8" r="2.15"/>
<circle cx="295.0" cy="547.4" r="2.15"/>
<circle cx="294.6" cy="550.0" r="2.15"/>
<circle cx="294.8" cy="552.6" r="2.15"/>
<circle cx="294.6" cy="555.2" r="2.15"/>
<circle cx="294.7" cy="557.8" r="2.15"/>
<circle cx="295.0" cy="560.4" r="2.15"/>
<circle cx="294.8" cy="563.0" r="2.15"/>
<circle cx="294.8" cy="565.6" r="2.15"/>
<circle cx="296.8" cy="537.0" r="2.15"/>
<circle cx="296.8" cy="539.6" r="2.15"/>
<circle cx="296.6" cy="542.2" r="2.15"/>
<circle cx="296.7" cy="544.8" r="2.15"/>
<circle cx="296.6" cy="547.4" r="2.15"/>
<circle cx="296.6" cy="550.0" r="2.15"/>
<circle cx="296.7" cy="552.6" r="2.15"/>
<circle cx="296.6" cy="555.2" r="2.15"/>
<circle cx="296.6" cy="557.8" r="2.15"/>
<circle cx="296.6" cy="560.4" r="2.15"/>
<circle cx="296.9" cy="563.0" r="2.15"/>
<circle cx="296.7" cy="565.6" r="2.15"/>
<circle cx="298.8" cy="537.0" r="2.15"/>
<circle cx="298.9" cy="540.0" r="2.15"/>
<circle cx="298.5" cy="543.0" r="2.15"/>
<circle cx="298.6" cy="546.0" r="2.15"/>
<circle cx="298.9" cy="549.0" r="2.15"/>
<circle cx="298.8" cy="552.0" r="2.15"/>
<circle cx="298.4" cy="555.0" r="2.15"/>
<circle cx="298.4" cy="558.0" r="2.15"/>
<circle cx="298.6" cy="561.0" r="2.15"/>
<circle cx="298.3" cy="564.0" r="2.15"/>
<circle cx="298.4" cy="567.0" r="2.15"/>
<circle cx="298.3" cy="570.0" r="2.15"/>
<circle cx="298.7" cy="573.0" r="2.15"/>
<circle cx="298.8" cy="576.0" r="2.15"/>
<circle cx="298.8" cy="579.0" r="2.15"/>
<circle cx="298.4" cy="582.0" r="2.15"/>
<circle cx="301.2" cy="559.1" r="2.15"/>
<circle cx="302.0" cy="561.4" r="2.15"/>
<circle cx="303.7" cy="563.2" r="2.15"/>
<circle cx="304.9" cy="565.6" r="2.15"/>
<circle cx="305.8" cy="568.1" r="2.15"/>
<circle cx="307.2" cy="569.9" r="2.15"/>
<circle cx="308.1" cy="572.3" r="2.15"/>
<circle cx="309.2" cy="574.3" r="2.15"/>
<circle cx="310.4" cy="576.8" r="2.15"/>
<circle cx="298.1" cy="560.4" r="2.15"/>
<circle cx="299.5" cy="562.3" r="2.15"/>
<circle cx="300.7" cy="564.9" r="2.15"/>
<circle cx="301.9" cy="566.8" r="2.15"/>
<circle cx="303.4" cy="569.4" r="2.15"/>
<circle cx="304.6" cy="571.2" r="2.15"/>
<circle cx="305.4" cy="573.4" r="2.15"/>
<circle cx="306.9" cy="575.8" r="2.15"/>
<circle cx="307.7" cy="578.1" r="2.15"/>
<circle cx="295.7" cy="521.7" r="2.15"/>
<circle cx="297.2" cy="526.2" r="2.15"/>
<circle cx="298.3" cy="536.3" r="2.15"/>
<circle cx="297.7" cy="467.3" r="2.15"/>
<circle cx="297.6" cy="493.5" r="2.15"/>
<circle cx="298.4" cy="495.4" r="2.15"/>
<circle cx="300.1" cy="498.0" r="2.15"/>
<circle cx="301.2" cy="500.0" r="2.15"/>
<circle cx="302.1" cy="502.7" r="2.15"/>
<circle cx="303.5" cy="504.7" r="2.15"/>
<circle cx="305.1" cy="507.4" r="2.15"/>
<circle cx="306.3" cy="509.4" r="2.15"/>
<circle cx="307.5" cy="511.7" r="2.15"/>
<circle cx="308.8" cy="514.3" r="2.15"/>
<circle cx="309.7" cy="516.7" r="2.15"/>
<circle cx="311.3" cy="518.8" r="2.15"/>
<circle cx="312.1" cy="521.3" r="2.15"/>
<circle cx="294.5" cy="494.5" r="2.15"/>
<circle cx="295.7" cy="496.8" r="2.15"/>
<circle cx="297.0" cy="499.3" r="2.15"/>
<circle cx="298.3" cy="501.9" r="2.15"/>
<circle cx="299.6" cy="504.0" r="2.15"/>
<circle cx="300.7" cy="506.3" r="2.15"/>
<circle cx="301.9" cy="508.6" r="2.15"/>
<circle cx="303.1" cy="511.2" r="2.15"/>
<circle cx="304.7" cy="513.2" r="2.15"/>
<circle cx="305.9" cy="516.0" r="2.15"/>
<circle cx="306.9" cy="518.2" r="2.15"/>
<circle cx="308.4" cy="520.4" r="2.15"/>
<circle cx="309.9" cy="522.6" r="2.15"/>
<circle cx="304.7" cy="539.6" r="2.15"/>
<circle cx="306.6" cy="538.1" r="2.15"/>
<circle cx="308.0" cy="537.0" r="2.15"/>
<circle cx="309.4" cy="535.6" r="2.15"/>
<circle cx="310.8" cy="534.1" r="2.15"/>
<circle cx="312.2" cy="532.8" r="2.15"/>
<circle cx="314.1" cy="531.7" r="2.15"/>
<circle cx="315.3" cy="530.3" r="2.15"/>
<circle cx="317.3" cy="529.5" r="2.15"/>
<circle cx="318.7" cy="527.9" r="2.15"/>
<circle cx="320.0" cy="526.6" r="2.15"/>
<circle cx="321.7" cy="525.3" r="2.15"/>
<circle cx="306.0" cy="540.9" r="2.15"/>
<circle cx="307.8" cy="540.0" r="2.15"/>
<circle cx="309.1" cy="538.3" r="2.15"/>
<circle cx="310.9" cy="537.1" r="2.15"/>
<circle cx="312.1" cy="535.6" r="2.15"/>
<circle cx="313.7" cy="534.6" r="2.15"/>
<circle cx="315.3" cy="533.2" r="2.15"/>
<circle cx="316.8" cy="531.8" r="2.15"/>
<circle cx="318.2" cy="530.6" r="2.15"/>
<circle cx="319.8" cy="529.3" r="2.15"/>
<circle cx="321.2" cy="528.2" r="2.15"/>
<circle cx="322.8" cy="527.1" r="2.15"/>
<circle cx="307.3" cy="542.7" r="2.15"/>
<circle cx="308.9" cy="541.4" r="2.15"/>
<circle cx="310.6" cy="539.9" r="2.15"/>
<circle cx="311.8" cy="539.0" r="2.15"/>
<circle cx="313.2" cy="537.6" r="2.15"/>
<circle cx="315.1" cy="535.9" r="2.15"/>
<circle cx="316.7" cy="535.1" r="2.15"/>
<circle cx="318.2" cy="533.8" r="2.15"/>
<circle cx="319.8" cy="532.1" r="2.15"/>
<circle cx="321.2" cy="531.1" r="2.15"/>
<circle cx="322.9" cy="530.0" r="2.15"/>
<circle cx="324.5" cy="528.6" r="2.15"/>
<circle cx="311.9" cy="522.4" r="2.15"/>
<circle cx="314.5" cy="524.6" r="2.15"/>
<circle cx="316.9" cy="527.0" r="2.15"/>
<circle cx="319.8" cy="529.5" r="2.15"/>
<circle cx="322.9" cy="532.3" r="2.15"/>
<circle cx="310.4" cy="523.8" r="2.15"/>
<circle cx="313.2" cy="526.2" r="2.15"/>
<circle cx="315.5" cy="528.9" r="2.15"/>
<circle cx="318.7" cy="531.2" r="2.15"/>
<circle cx="321.3" cy="533.8" r="2.15"/>
<circle cx="302.0" cy="520.0" r="2.15"/>
<circle cx="317.0" cy="529.0" r="2.15"/>
<circle cx="331.2" cy="527.7" r="2.15"/>
<circle cx="334.0" cy="526.3" r="2.15"/>
<circle cx="336.7" cy="525.7" r="2.15"/>
<circle cx="339.4" cy="524.7" r="2.15"/>
<circle cx="342.6" cy="523.6" r="2.15"/>
<circle cx="344.9" cy="522.6" r="2.15"/>
<circle cx="332.6" cy="530.6" r="2.15"/>
<circle cx="335.3" cy="529.5" r="2.15"/>
<circle cx="337.7" cy="528.2" r="2.15"/>
<circle cx="340.5" cy="527.6" r="2.15"/>
<circle cx="343.2" cy="526.4" r="2.15"/>
<circle cx="345.7" cy="525.1" r="2.15"/>
<circle cx="343.1" cy="511.6" r="2.15"/>
<circle cx="345.0" cy="515.5" r="2.15"/>
<circle cx="334.0" cy="537.2" r="2.15"/>
<circle cx="346.8" cy="537.2" r="2.15"/>
<circle cx="289.2" cy="594.9" r="2.15"/>
<circle cx="291.0" cy="593.9" r="2.15"/>
<circle cx="292.4" cy="592.8" r="2.15"/>
<circle cx="294.0" cy="591.8" r="2.15"/>
<circle cx="295.4" cy="591.1" r="2.15"/>
<circle cx="297.0" cy="590.2" r="2.15"/>
<circle cx="298.1" cy="588.9" r="2.15"/>
<circle cx="299.2" cy="588.2" r="2.15"/>
<circle cx="300.9" cy="586.7" r="2.15"/>
<circle cx="301.8" cy="585.3" r="2.15"/>
<circle cx="303.6" cy="584.1" r="2.15"/>
<circle cx="304.8" cy="582.8" r="2.15"/>
<circle cx="306.1" cy="582.1" r="2.15"/>
<circle cx="306.5" cy="581.2" r="2.15"/>
<circle cx="307.9" cy="579.8" r="2.15"/>
<circle cx="309.2" cy="578.0" r="2.15"/>
<circle cx="310.5" cy="576.7" r="2.15"/>
<circle cx="311.1" cy="575.0" r="2.15"/>
<circle cx="312.5" cy="573.8" r="2.15"/>
<circle cx="313.6" cy="572.2" r="2.15"/>
<circle cx="314.9" cy="570.7" r="2.15"/>
<circle cx="316.4" cy="569.2" r="2.15"/>
<circle cx="317.5" cy="568.3" r="2.15"/>
<circle cx="318.3" cy="566.9" r="2.15"/>
<circle cx="319.9" cy="565.5" r="2.15"/>
<circle cx="322.7" cy="562.9" r="2.15"/>
<circle cx="324.4" cy="562.5" r="2.15"/>
<circle cx="326.2" cy="561.3" r="2.15"/>
<circle cx="327.7" cy="560.4" r="2.15"/>
<circle cx="290.8" cy="597.3" r="2.15"/>
<circle cx="292.9" cy="596.5" r="2.15"/>
<circle cx="294.5" cy="595.5" r="2.15"/>
<circle cx="295.7" cy="594.7" r="2.15"/>
<circle cx="297.2" cy="593.6" r="2.15"/>
<circle cx="299.2" cy="592.9" r="2.15"/>
<circle cx="300.3" cy="591.8" r="2.15"/>
<circle cx="301.7" cy="590.7" r="2.15"/>
<circle cx="302.9" cy="589.3" r="2.15"/>
<circle cx="303.9" cy="588.1" r="2.15"/>
<circle cx="305.5" cy="586.9" r="2.15"/>
<circle cx="307.0" cy="585.4" r="2.15"/>
<circle cx="308.0" cy="584.5" r="2.15"/>
<circle cx="309.1" cy="583.1" r="2.15"/>
<circle cx="310.4" cy="581.6" r="2.15"/>
<circle cx="311.8" cy="580.5" r="2.15"/>
<circle cx="312.7" cy="578.9" r="2.15"/>
<circle cx="313.9" cy="577.4" r="2.15"/>
<circle cx="315.1" cy="575.7" r="2.15"/>
<circle cx="316.1" cy="574.3" r="2.15"/>
<circle cx="317.7" cy="573.0" r="2.15"/>
<circle cx="318.5" cy="571.9" r="2.15"/>
<circle cx="320.2" cy="570.2" r="2.15"/>
<circle cx="320.9" cy="568.6" r="2.15"/>
<circle cx="322.1" cy="567.3" r="2.15"/>
<circle cx="324.1" cy="565.8" r="2.15"/>
<circle cx="325.8" cy="565.2" r="2.15"/>
<circle cx="327.8" cy="564.5" r="2.15"/>
<circle cx="329.2" cy="563.5" r="2.15"/>
<circle cx="292.9" cy="600.3" r="2.15"/>
<circle cx="294.3" cy="599.2" r="2.15"/>
<circle cx="295.9" cy="598.7" r="2.15"/>
<circle cx="297.3" cy="597.5" r="2.15"/>
<circle cx="299.2" cy="596.7" r="2.15"/>
<circle cx="300.5" cy="595.4" r="2.15"/>
<circle cx="302.2" cy="594.1" r="2.15"/>
<circle cx="303.7" cy="593.2" r="2.15"/>
<circle cx="305.3" cy="591.9" r="2.15"/>
<circle cx="306.1" cy="590.2" r="2.15"/>
<circle cx="307.9" cy="589.5" r="2.15"/>
<circle cx="309.2" cy="588.0" r="2.15"/>
<circle cx="310.2" cy="586.7" r="2.15"/>
<circle cx="312.2" cy="585.4" r="2.15"/>
<circle cx="313.3" cy="584.0" r="2.15"/>
<circle cx="314.1" cy="582.1" r="2.15"/>
<circle cx="315.2" cy="580.9" r="2.15"/>
<circle cx="316.7" cy="579.7" r="2.15"/>
<circle cx="317.9" cy="578.1" r="2.15"/>
<circle cx="319.0" cy="576.5" r="2.15"/>
<circle cx="320.1" cy="574.9" r="2.15"/>
<circle cx="321.4" cy="573.6" r="2.15"/>
<circle cx="322.7" cy="572.5" r="2.15"/>
<circle cx="323.5" cy="570.8" r="2.15"/>
<circle cx="324.7" cy="569.7" r="2.15"/>
<circle cx="325.9" cy="568.7" r="2.15"/>
<circle cx="327.2" cy="568.2" r="2.15"/>
<circle cx="329.1" cy="567.2" r="2.15"/>
<circle cx="330.6" cy="566.6" r="2.15"/>
<circle cx="294.4" cy="603.1" r="2.15"/>
<circle cx="296.2" cy="602.5" r="2.15"/>
<circle cx="297.9" cy="601.5" r="2.15"/>
<circle cx="299.3" cy="600.1" r="2.15"/>
<circle cx="300.8" cy="599.6" r="2.15"/>
<circle cx="302.6" cy="598.2" r="2.15"/>
<circle cx="304.3" cy="596.6" r="2.15"/>
<circle cx="306.0" cy="595.3" r="2.15"/>
<circle cx="307.1" cy="594.3" r="2.15"/>
<circle cx="308.9" cy="592.8" r="2.15"/>
<circle cx="309.8" cy="591.6" r="2.15"/>
<circle cx="311.4" cy="590.6" r="2.15"/>
<circle cx="312.6" cy="589.4" r="2.15"/>
<circle cx="314.7" cy="587.3" r="2.15"/>
<circle cx="315.6" cy="586.1" r="2.15"/>
<circle cx="316.8" cy="584.6" r="2.15"/>
<circle cx="317.9" cy="582.8" r="2.15"/>
<circle cx="319.3" cy="581.4" r="2.15"/>
<circle cx="320.6" cy="580.1" r="2.15"/>
<circle cx="321.3" cy="578.5" r="2.15"/>
<circle cx="322.5" cy="577.5" r="2.15"/>
<circle cx="324.0" cy="575.7" r="2.15"/>
<circle cx="324.9" cy="574.4" r="2.15"/>
<circle cx="326.4" cy="572.9" r="2.15"/>
<circle cx="327.1" cy="571.5" r="2.15"/>
<circle cx="327.2" cy="572.2" r="2.15"/>
<circle cx="329.2" cy="571.3" r="2.15"/>
<circle cx="330.9" cy="570.6" r="2.15"/>
<circle cx="332.1" cy="569.3" r="2.15"/>
<circle cx="296.6" cy="602.4" r="2.15"/>
<circle cx="292.7" cy="597.2" r="2.15"/>
<circle cx="292.3" cy="594.4" r="2.15"/>
<circle cx="292.5" cy="605.4" r="2.15"/>
<circle cx="291.5" cy="597.0" r="2.15"/>
<circle cx="295.8" cy="603.5" r="2.15"/>
<circle cx="293.3" cy="597.2" r="2.15"/>
<circle cx="292.5" cy="604.6" r="2.15"/>
<circle cx="295.7" cy="602.7" r="2.15"/>
<circle cx="291.8" cy="602.5" r="2.15"/>
<circle cx="296.3" cy="596.7" r="2.15"/>
<circle cx="291.9" cy="605.4" r="2.15"/>
<circle cx="294.3" cy="595.7" r="2.15"/>
<circle cx="295.0" cy="596.4" r="2.15"/>
<circle cx="290.2" cy="595.3" r="2.15"/>
<circle cx="291.8" cy="598.0" r="2.15"/>
<circle cx="293.5" cy="605.0" r="2.15"/>
<circle cx="291.3" cy="603.2" r="2.15"/>
<circle cx="295.2" cy="603.5" r="2.15"/>
<circle cx="295.4" cy="600.5" r="2.15"/>
<circle cx="292.3" cy="596.5" r="2.15"/>
<circle cx="292.5" cy="603.0" r="2.15"/>
<circle cx="290.6" cy="594.8" r="2.15"/>
<circle cx="295.3" cy="595.5" r="2.15"/>
<circle cx="293.9" cy="596.6" r="2.15"/>
<circle cx="328.5" cy="579.8" r="2.15"/>
<circle cx="329.9" cy="578.4" r="2.15"/>
<circle cx="330.9" cy="577.2" r="2.15"/>
<circle cx="332.6" cy="576.5" r="2.15"/>
<circle cx="334.0" cy="575.1" r="2.15"/>
<circle cx="335.4" cy="574.2" r="2.15"/>
<circle cx="337.0" cy="573.2" r="2.15"/>
<circle cx="338.6" cy="572.1" r="2.15"/>
<circle cx="339.6" cy="571.1" r="2.15"/>
<circle cx="341.2" cy="569.8" r="2.15"/>
<circle cx="342.7" cy="568.8" r="2.15"/>
<circle cx="344.0" cy="567.4" r="2.15"/>
<circle cx="329.8" cy="581.8" r="2.15"/>
<circle cx="331.7" cy="581.0" r="2.15"/>
<circle cx="332.8" cy="579.8" r="2.15"/>
<circle cx="334.7" cy="578.7" r="2.15"/>
<circle cx="335.7" cy="577.8" r="2.15"/>
<circle cx="337.4" cy="576.8" r="2.15"/>
<circle cx="338.5" cy="575.4" r="2.15"/>
<circle cx="340.4" cy="574.6" r="2.15"/>
<circle cx="341.9" cy="573.0" r="2.15"/>
<circle cx="343.0" cy="572.0" r="2.15"/>
<circle cx="344.4" cy="571.4" r="2.15"/>
<circle cx="346.0" cy="570.3" r="2.15"/>
<circle cx="331.7" cy="584.6" r="2.15"/>
<circle cx="333.2" cy="583.2" r="2.15"/>
<circle cx="334.9" cy="582.5" r="2.15"/>
<circle cx="335.9" cy="581.2" r="2.15"/>
<circle cx="337.7" cy="579.9" r="2.15"/>
<circle cx="339.0" cy="578.7" r="2.15"/>
<circle cx="340.3" cy="577.7" r="2.15"/>
<circle cx="342.0" cy="576.9" r="2.15"/>
<circle cx="343.3" cy="575.4" r="2.15"/>
<circle cx="344.8" cy="574.7" r="2.15"/>
<circle cx="346.2" cy="573.4" r="2.15"/>
<circle cx="347.6" cy="572.6" r="2.15"/>
<circle cx="331.2" cy="578.8" r="2.15"/>
<circle cx="327.4" cy="582.7" r="2.15"/>
<circle cx="331.2" cy="585.7" r="2.15"/>
<circle cx="327.3" cy="580.0" r="2.15"/>
<circle cx="332.4" cy="582.9" r="2.15"/>
<circle cx="328.9" cy="581.7" r="2.15"/>
<circle cx="331.3" cy="582.3" r="2.15"/>
<circle cx="330.0" cy="588.4" r="2.15"/>
<circle cx="328.2" cy="586.7" r="2.15"/>
<circle cx="334.2" cy="583.1" r="2.15"/>
<circle cx="333.5" cy="582.9" r="2.15"/>
<circle cx="334.0" cy="583.5" r="2.15"/>
<circle cx="331.2" cy="585.7" r="2.15"/>
<circle cx="331.8" cy="582.5" r="2.15"/>
<circle cx="330.8" cy="579.8" r="2.15"/>
<circle cx="328.9" cy="584.3" r="2.15"/>
<circle cx="330.7" cy="587.7" r="2.15"/>
<circle cx="329.8" cy="588.9" r="2.15"/>
<circle cx="331.8" cy="587.9" r="2.15"/>
<circle cx="327.9" cy="587.4" r="2.15"/>
<circle cx="328.4" cy="582.9" r="2.15"/>
<circle cx="333.7" cy="588.0" r="2.15"/>
<circle cx="328.1" cy="580.6" r="2.15"/>
<circle cx="329.9" cy="584.2" r="2.15"/>
<circle cx="329.8" cy="579.5" r="2.15"/>
<circle cx="345.2" cy="499.2" r="2.15"/>
<circle cx="347.8" cy="499.5" r="2.15"/>
<circle cx="349.8" cy="500.5" r="2.15"/>
<circle cx="351.7" cy="501.2" r="2.15"/>
<circle cx="353.9" cy="501.6" r="2.15"/>
<circle cx="356.4" cy="502.3" r="2.15"/>
<circle cx="358.5" cy="502.8" r="2.15"/>
<circle cx="360.9" cy="503.4" r="2.15"/>
<circle cx="363.1" cy="504.0" r="2.15"/>
<circle cx="365.2" cy="504.4" r="2.15"/>
<circle cx="367.5" cy="505.3" r="2.15"/>
<circle cx="369.5" cy="506.1" r="2.15"/>
<circle cx="372.0" cy="506.5" r="2.15"/>
<circle cx="373.9" cy="507.1" r="2.15"/>
<circle cx="376.1" cy="507.6" r="2.15"/>
<circle cx="378.5" cy="508.2" r="2.15"/>
<circle cx="380.7" cy="509.0" r="2.15"/>
<circle cx="382.7" cy="509.7" r="2.15"/>
<circle cx="384.9" cy="510.4" r="2.15"/>
<circle cx="387.5" cy="510.9" r="2.15"/>
<circle cx="389.3" cy="511.5" r="2.15"/>
<circle cx="391.7" cy="512.4" r="2.15"/>
<circle cx="344.3" cy="502.2" r="2.15"/>
<circle cx="347.0" cy="502.8" r="2.15"/>
<circle cx="349.1" cy="503.1" r="2.15"/>
<circle cx="351.4" cy="503.9" r="2.15"/>
<circle cx="353.6" cy="504.7" r="2.15"/>
<circle cx="355.4" cy="505.3" r="2.15"/>
<circle cx="358.0" cy="505.5" r="2.15"/>
<circle cx="359.9" cy="506.5" r="2.15"/>
<circle cx="362.0" cy="507.2" r="2.15"/>
<circle cx="364.3" cy="507.8" r="2.15"/>
<circle cx="366.4" cy="508.2" r="2.15"/>
<circle cx="369.1" cy="508.6" r="2.15"/>
<circle cx="370.9" cy="509.4" r="2.15"/>
<circle cx="373.2" cy="509.8" r="2.15"/>
<circle cx="375.3" cy="510.5" r="2.15"/>
<circle cx="378.0" cy="511.4" r="2.15"/>
<circle cx="380.2" cy="511.7" r="2.15"/>
<circle cx="382.3" cy="512.3" r="2.15"/>
<circle cx="384.4" cy="513.2" r="2.15"/>
<circle cx="386.5" cy="514.0" r="2.15"/>
<circle cx="388.8" cy="514.4" r="2.15"/>
<circle cx="391.2" cy="514.8" r="2.15"/>
<circle cx="344.0" cy="505.0" r="2.15"/>
<circle cx="345.8" cy="505.7" r="2.15"/>
<circle cx="348.0" cy="506.4" r="2.15"/>
<circle cx="350.4" cy="506.7" r="2.15"/>
<circle cx="352.7" cy="507.3" r="2.15"/>
<circle cx="354.6" cy="508.1" r="2.15"/>
<circle cx="356.7" cy="508.8" r="2.15"/>
<circle cx="359.0" cy="509.3" r="2.15"/>
<circle cx="361.7" cy="509.9" r="2.15"/>
<circle cx="363.7" cy="510.3" r="2.15"/>
<circle cx="365.5" cy="510.8" r="2.15"/>
<circle cx="367.8" cy="511.8" r="2.15"/>
<circle cx="370.2" cy="512.3" r="2.15"/>
<circle cx="372.7" cy="512.7" r="2.15"/>
<circle cx="374.5" cy="513.6" r="2.15"/>
<circle cx="376.6" cy="513.9" r="2.15"/>
<circle cx="379.0" cy="514.6" r="2.15"/>
<circle cx="381.2" cy="515.2" r="2.15"/>
<circle cx="383.6" cy="516.1" r="2.15"/>
<circle cx="385.6" cy="516.7" r="2.15"/>
<circle cx="388.0" cy="517.1" r="2.15"/>
<circle cx="390.5" cy="517.7" r="2.15"/>
<circle cx="391.5" cy="512.9" r="2.15"/>
<circle cx="394.1" cy="514.2" r="2.15"/>
<circle cx="396.6" cy="514.8" r="2.15"/>
<circle cx="398.7" cy="515.5" r="2.15"/>
<circle cx="401.3" cy="516.7" r="2.15"/>
<circle cx="403.5" cy="517.6" r="2.15"/>
<circle cx="405.9" cy="518.6" r="2.15"/>
<circle cx="408.5" cy="519.1" r="2.15"/>
<circle cx="410.9" cy="519.8" r="2.15"/>
<circle cx="390.3" cy="516.8" r="2.15"/>
<circle cx="392.5" cy="517.5" r="2.15"/>
<circle cx="395.2" cy="518.3" r="2.15"/>
<circle cx="397.5" cy="519.8" r="2.15"/>
<circle cx="399.6" cy="520.2" r="2.15"/>
<circle cx="402.2" cy="521.3" r="2.15"/>
<circle cx="404.6" cy="522.3" r="2.15"/>
<circle cx="406.7" cy="522.9" r="2.15"/>
<circle cx="409.2" cy="523.6" r="2.15"/>
<circle cx="409.5" cy="539.3" r="2.15"/>
<circle cx="408.4" cy="538.7" r="2.15"/>
<circle cx="399.7" cy="538.6" r="2.15"/>
<circle cx="399.4" cy="529.8" r="2.15"/>
<circle cx="391.4" cy="529.9" r="2.15"/>
<circle cx="389.9" cy="531.7" r="2.15"/>
<circle cx="406.2" cy="537.8" r="2.15"/>
<circle cx="408.4" cy="538.1" r="2.15"/>
<circle cx="395.1" cy="535.4" r="2.15"/>
<circle cx="399.0" cy="539.4" r="2.15"/>
<circle cx="401.0" cy="530.5" r="2.15"/>
<circle cx="394.0" cy="541.0" r="2.15"/>
<circle cx="389.4" cy="530.4" r="2.15"/>
<circle cx="394.4" cy="538.6" r="2.15"/>
<circle cx="410.7" cy="538.7" r="2.15"/>
<circle cx="396.5" cy="541.0" r="2.15"/>
<circle cx="396.6" cy="530.1" r="2.15"/>
<circle cx="409.9" cy="536.7" r="2.15"/>
<circle cx="404.9" cy="537.3" r="2.15"/>
<circle cx="411.5" cy="534.0" r="2.15"/>
<circle cx="408.3" cy="537.9" r="2.15"/>
<circle cx="408.7" cy="533.4" r="2.15"/>
<circle cx="405.7" cy="535.7" r="2.15"/>
<circle cx="396.1" cy="529.6" r="2.15"/>
<circle cx="403.3" cy="527.3" r="2.15"/>
<circle cx="409.9" cy="528.5" r="2.15"/>
<circle cx="410.4" cy="531.9" r="2.15"/>
<circle cx="390.0" cy="537.8" r="2.15"/>
<circle cx="403.6" cy="537.8" r="2.15"/>
<circle cx="405.9" cy="527.1" r="2.15"/>
<circle cx="402.6" cy="532.2" r="2.15"/>
<circle cx="407.8" cy="539.9" r="2.15"/>
<circle cx="409.5" cy="527.1" r="2.15"/>
<circle cx="410.7" cy="527.8" r="2.15"/>
<circle cx="393.7" cy="527.9" r="2.15"/>
<circle cx="389.8" cy="540.4" r="2.15"/>
<circle cx="407.7" cy="536.8" r="2.15"/>
<circle cx="408.0" cy="536.7" r="2.15"/>
<circle cx="395.6" cy="527.7" r="2.15"/>
<circle cx="391.3" cy="538.9" r="2.15"/>
<circle cx="393.7" cy="531.4" r="2.15"/>
<circle cx="398.7" cy="526.4" r="2.15"/>
<circle cx="394.9" cy="530.8" r="2.15"/>
<circle cx="405.5" cy="532.3" r="2.15"/>
<circle cx="400.6" cy="540.5" r="2.15"/>
<circle cx="403.2" cy="526.5" r="2.15"/>
<circle cx="398.5" cy="533.4" r="2.15"/>
<circle cx="406.8" cy="531.9" r="2.15"/>
<circle cx="405.2" cy="535.1" r="2.15"/>
<circle cx="394.0" cy="540.7" r="2.15"/>
<circle cx="391.1" cy="539.9" r="2.15"/>
<circle cx="393.6" cy="539.0" r="2.15"/>
<circle cx="400.3" cy="534.4" r="2.15"/>
<circle cx="407.3" cy="529.1" r="2.15"/>
<circle cx="400.4" cy="531.9" r="2.15"/>
<circle cx="408.1" cy="530.4" r="2.15"/>
<circle cx="410.7" cy="530.8" r="2.15"/>
<circle cx="393.9" cy="537.9" r="2.15"/>
<circle cx="400.5" cy="527.9" r="2.15"/>
<circle cx="403.6" cy="527.4" r="2.15"/>
<circle cx="418.2" cy="539.1" r="2.15"/>
<circle cx="420.9" cy="539.1" r="2.15"/>
<circle cx="423.3" cy="538.9" r="2.15"/>
<circle cx="426.0" cy="539.2" r="2.15"/>
<circle cx="428.6" cy="539.2" r="2.15"/>
<circle cx="431.2" cy="538.8" r="2.15"/>
<circle cx="348.0" cy="513.0" r="2.15"/>
<circle cx="344.6" cy="537.5" r="2.15"/>
<circle cx="348.9" cy="557.1" r="2.15"/>
<circle cx="351.8" cy="557.9" r="2.15"/>
<circle cx="354.8" cy="558.9" r="2.15"/>
<circle cx="357.3" cy="560.1" r="2.15"/>
<circle cx="360.2" cy="561.3" r="2.15"/>
<circle cx="362.9" cy="562.1" r="2.15"/>
<circle cx="365.5" cy="563.1" r="2.15"/>
<circle cx="368.5" cy="564.5" r="2.15"/>
<circle cx="371.2" cy="565.2" r="2.15"/>
<circle cx="373.8" cy="566.6" r="2.15"/>
<circle cx="376.6" cy="567.3" r="2.15"/>
<circle cx="379.3" cy="568.8" r="2.15"/>
<circle cx="381.9" cy="569.5" r="2.15"/>
<circle cx="384.7" cy="570.9" r="2.15"/>
<circle cx="387.8" cy="571.6" r="2.15"/>
<circle cx="390.1" cy="572.7" r="2.15"/>
<circle cx="393.0" cy="573.9" r="2.15"/>
<circle cx="395.6" cy="574.9" r="2.15"/>
<circle cx="347.8" cy="560.0" r="2.15"/>
<circle cx="350.8" cy="560.5" r="2.15"/>
<circle cx="353.7" cy="561.6" r="2.15"/>
<circle cx="356.1" cy="563.2" r="2.15"/>
<circle cx="359.1" cy="564.1" r="2.15"/>
<circle cx="361.7" cy="564.8" r="2.15"/>
<circle cx="364.6" cy="565.9" r="2.15"/>
<circle cx="367.1" cy="567.1" r="2.15"/>
<circle cx="369.7" cy="568.2" r="2.15"/>
<circle cx="372.9" cy="569.4" r="2.15"/>
<circle cx="375.5" cy="570.4" r="2.15"/>
<circle cx="378.2" cy="571.2" r="2.15"/>
<circle cx="381.1" cy="572.4" r="2.15"/>
<circle cx="383.9" cy="573.8" r="2.15"/>
<circle cx="386.5" cy="574.6" r="2.15"/>
<circle cx="389.4" cy="575.6" r="2.15"/>
<circle cx="391.8" cy="576.9" r="2.15"/>
<circle cx="395.0" cy="578.0" r="2.15"/>
<circle cx="347.1" cy="592.2" r="2.15"/>
<circle cx="349.7" cy="591.3" r="2.15"/>
<circle cx="352.1" cy="590.3" r="2.15"/>
<circle cx="354.8" cy="589.4" r="2.15"/>
<circle cx="357.3" cy="589.1" r="2.15"/>
<circle cx="360.1" cy="588.2" r="2.15"/>
<circle cx="362.4" cy="587.3" r="2.15"/>
<circle cx="365.1" cy="586.7" r="2.15"/>
<circle cx="367.7" cy="586.0" r="2.15"/>
<circle cx="370.6" cy="584.9" r="2.15"/>
<circle cx="373.0" cy="584.5" r="2.15"/>
<circle cx="375.5" cy="583.6" r="2.15"/>
<circle cx="378.4" cy="582.5" r="2.15"/>
<circle cx="380.8" cy="581.8" r="2.15"/>
<circle cx="383.5" cy="581.5" r="2.15"/>
<circle cx="385.9" cy="580.3" r="2.15"/>
<circle cx="388.6" cy="579.8" r="2.15"/>
<circle cx="391.2" cy="579.0" r="2.15"/>
<circle cx="393.8" cy="578.4" r="2.15"/>
<circle cx="396.3" cy="577.4" r="2.15"/>
<circle cx="399.2" cy="576.5" r="2.15"/>
<circle cx="401.6" cy="575.9" r="2.15"/>
<circle cx="404.2" cy="574.9" r="2.15"/>
<circle cx="407.0" cy="574.3" r="2.15"/>
<circle cx="409.0" cy="573.5" r="2.15"/>
<circle cx="411.8" cy="572.6" r="2.15"/>
<circle cx="347.8" cy="594.8" r="2.15"/>
<circle cx="350.5" cy="594.0" r="2.15"/>
<circle cx="352.9" cy="593.1" r="2.15"/>
<circle cx="355.8" cy="592.8" r="2.15"/>
<circle cx="358.2" cy="591.6" r="2.15"/>
<circle cx="361.0" cy="591.0" r="2.15"/>
<circle cx="363.2" cy="590.0" r="2.15"/>
<circle cx="366.2" cy="589.7" r="2.15"/>
<circle cx="368.7" cy="588.7" r="2.15"/>
<circle cx="371.2" cy="587.8" r="2.15"/>
<circle cx="374.1" cy="587.1" r="2.15"/>
<circle cx="376.5" cy="586.6" r="2.15"/>
<circle cx="379.2" cy="585.7" r="2.15"/>
<circle cx="381.4" cy="584.9" r="2.15"/>
<circle cx="383.9" cy="584.3" r="2.15"/>
<circle cx="386.7" cy="583.6" r="2.15"/>
<circle cx="389.2" cy="582.5" r="2.15"/>
<circle cx="391.8" cy="581.8" r="2.15"/>
<circle cx="394.4" cy="580.8" r="2.15"/>
<circle cx="397.3" cy="580.2" r="2.15"/>
<circle cx="399.6" cy="579.4" r="2.15"/>
<circle cx="402.3" cy="578.8" r="2.15"/>
<circle cx="405.0" cy="578.1" r="2.15"/>
<circle cx="407.4" cy="577.5" r="2.15"/>
<circle cx="410.3" cy="576.2" r="2.15"/>
<circle cx="412.9" cy="576.0" r="2.15"/>
<circle cx="414.2" cy="578.0" r="2.15"/>
<circle cx="413.8" cy="581.2" r="2.15"/>
<circle cx="417.5" cy="575.2" r="2.15"/>
<circle cx="417.4" cy="578.4" r="2.15"/>
<circle cx="417.0" cy="581.6" r="2.15"/>
<circle cx="420.3" cy="572.4" r="2.15"/>
<circle cx="420.9" cy="575.6" r="2.15"/>
<circle cx="420.7" cy="578.8" r="2.15"/>
<circle cx="420.5" cy="582.0" r="2.15"/>
<circle cx="423.7" cy="569.6" r="2.15"/>
<circle cx="423.7" cy="572.8" r="2.15"/>
<circle cx="423.7" cy="576.0" r="2.15"/>
<circle cx="424.1" cy="579.2" r="2.15"/>
<circle cx="423.8" cy="582.4" r="2.15"/>
<circle cx="427.0" cy="566.8" r="2.15"/>
<circle cx="427.4" cy="570.0" r="2.15"/>
<circle cx="427.4" cy="573.2" r="2.15"/>
<circle cx="427.0" cy="576.4" r="2.15"/>
<circle cx="427.4" cy="579.6" r="2.15"/>
<circle cx="430.6" cy="564.0" r="2.15"/>
<circle cx="430.7" cy="567.2" r="2.15"/>
<circle cx="430.6" cy="570.4" r="2.15"/>
<circle cx="430.7" cy="573.6" r="2.15"/>
<circle cx="430.7" cy="576.8" r="2.15"/>
<circle cx="430.7" cy="580.0" r="2.15"/>
<circle cx="433.6" cy="561.2" r="2.15"/>
<circle cx="433.9" cy="564.4" r="2.15"/>
<circle cx="433.8" cy="567.6" r="2.15"/>
<circle cx="433.9" cy="570.8" r="2.15"/>
<circle cx="433.8" cy="574.0" r="2.15"/>
<circle cx="434.0" cy="577.2" r="2.15"/>
<circle cx="433.8" cy="580.4" r="2.15"/>
<circle cx="437.0" cy="558.4" r="2.15"/>
<circle cx="436.9" cy="561.6" r="2.15"/>
<circle cx="436.9" cy="564.8" r="2.15"/>
<circle cx="437.1" cy="568.0" r="2.15"/>
<circle cx="436.8" cy="571.2" r="2.15"/>
<circle cx="437.1" cy="574.4" r="2.15"/>
<circle cx="436.9" cy="577.6" r="2.15"/>
<circle cx="437.1" cy="580.8" r="2.15"/>
<circle cx="440.4" cy="555.6" r="2.15"/>
<circle cx="440.4" cy="558.8" r="2.15"/>
<circle cx="440.6" cy="562.0" r="2.15"/>
<circle cx="440.1" cy="565.2" r="2.15"/>
<circle cx="440.6" cy="568.4" r="2.15"/>
<circle cx="440.4" cy="571.6" r="2.15"/>
<circle cx="440.4" cy="574.8" r="2.15"/>
<circle cx="440.5" cy="578.0" r="2.15"/>
<circle cx="443.9" cy="552.8" r="2.15"/>
<circle cx="443.6" cy="556.0" r="2.15"/>
<circle cx="443.7" cy="559.2" r="2.15"/>
<circle cx="444.0" cy="562.4" r="2.15"/>
<circle cx="443.4" cy="565.6" r="2.15"/>
<circle cx="443.8" cy="568.8" r="2.15"/>
<circle cx="443.8" cy="572.0" r="2.15"/>
<circle cx="443.4" cy="575.2" r="2.15"/>
<circle cx="443.8" cy="578.4" r="2.15"/>
<circle cx="447.1" cy="550.0" r="2.15"/>
<circle cx="447.3" cy="553.2" r="2.15"/>
<circle cx="446.9" cy="556.4" r="2.15"/>
<circle cx="447.3" cy="559.6" r="2.15"/>
<circle cx="447.0" cy="562.8" r="2.15"/>
<circle cx="447.0" cy="566.0" r="2.15"/>
<circle cx="447.2" cy="569.2" r="2.15"/>
<circle cx="446.7" cy="572.4" r="2.15"/>
<circle cx="447.1" cy="575.6" r="2.15"/>
<circle cx="447.1" cy="578.8" r="2.15"/>
<circle cx="450.2" cy="547.2" r="2.15"/>
<circle cx="450.5" cy="550.4" r="2.15"/>
<circle cx="450.2" cy="553.6" r="2.15"/>
<circle cx="450.3" cy="556.8" r="2.15"/>
<circle cx="450.3" cy="560.0" r="2.15"/>
<circle cx="450.5" cy="563.2" r="2.15"/>
<circle cx="450.1" cy="566.4" r="2.15"/>
<circle cx="450.3" cy="569.6" r="2.15"/>
<circle cx="450.3" cy="572.8" r="2.15"/>
<circle cx="450.3" cy="576.0" r="2.15"/>
<circle cx="450.5" cy="579.2" r="2.15"/>
<circle cx="453.5" cy="544.4" r="2.15"/>
<circle cx="453.8" cy="547.6" r="2.15"/>
<circle cx="453.5" cy="550.8" r="2.15"/>
<circle cx="453.6" cy="554.0" r="2.15"/>
<circle cx="453.5" cy="557.2" r="2.15"/>
<circle cx="453.6" cy="560.4" r="2.15"/>
<circle cx="453.9" cy="563.6" r="2.15"/>
<circle cx="453.7" cy="566.8" r="2.15"/>
<circle cx="453.8" cy="570.0" r="2.15"/>
<circle cx="453.5" cy="573.2" r="2.15"/>
<circle cx="453.5" cy="576.4" r="2.15"/>
<circle cx="456.8" cy="541.6" r="2.15"/>
<circle cx="457.0" cy="544.8" r="2.15"/>
<circle cx="457.0" cy="548.0" r="2.15"/>
<circle cx="457.1" cy="551.2" r="2.15"/>
<circle cx="456.6" cy="554.4" r="2.15"/>
<circle cx="457.0" cy="557.6" r="2.15"/>
<circle cx="457.1" cy="560.8" r="2.15"/>
<circle cx="456.9" cy="564.0" r="2.15"/>
<circle cx="456.6" cy="567.2" r="2.15"/>
<circle cx="456.8" cy="570.4" r="2.15"/>
<circle cx="456.6" cy="573.6" r="2.15"/>
<circle cx="456.7" cy="576.8" r="2.15"/>
<circle cx="465.4" cy="582.2" r="2.15"/>
<circle cx="450.2" cy="585.8" r="2.15"/>
<circle cx="464.8" cy="582.2" r="2.15"/>
<circle cx="447.8" cy="582.5" r="2.15"/>
<circle cx="452.4" cy="581.9" r="2.15"/>
<circle cx="451.5" cy="574.3" r="2.15"/>
<circle cx="450.7" cy="579.2" r="2.15"/>
<circle cx="456.2" cy="572.0" r="2.15"/>
<circle cx="450.0" cy="577.4" r="2.15"/>
<circle cx="444.6" cy="575.2" r="2.15"/>
<circle cx="429.5" cy="578.4" r="2.15"/>
<circle cx="430.5" cy="578.6" r="2.15"/>
<circle cx="449.2" cy="588.7" r="2.15"/>
<circle cx="415.2" cy="581.4" r="2.15"/>
<circle cx="459.0" cy="581.5" r="2.15"/>
<circle cx="465.3" cy="578.9" r="2.15"/>
<circle cx="446.3" cy="588.8" r="2.15"/>
<circle cx="449.4" cy="574.2" r="2.15"/>
<circle cx="412.3" cy="583.7" r="2.15"/>
<circle cx="419.1" cy="589.3" r="2.15"/>
<circle cx="417.1" cy="587.4" r="2.15"/>
<circle cx="453.7" cy="574.8" r="2.15"/>
<circle cx="454.5" cy="573.7" r="2.15"/>
<circle cx="414.9" cy="585.5" r="2.15"/>
<circle cx="453.4" cy="587.1" r="2.15"/>
<circle cx="454.3" cy="571.7" r="2.15"/>
<circle cx="448.5" cy="584.2" r="2.15"/>
<circle cx="438.7" cy="588.6" r="2.15"/>
<circle cx="426.7" cy="589.3" r="2.15"/>
<circle cx="412.9" cy="583.0" r="2.15"/>
<circle cx="459.4" cy="571.6" r="2.15"/>
<circle cx="430.0" cy="584.6" r="2.15"/>
<circle cx="421.6" cy="587.2" r="2.15"/>
<circle cx="433.3" cy="581.5" r="2.15"/>
<circle cx="437.4" cy="583.5" r="2.15"/>
<circle cx="420.4" cy="585.9" r="2.15"/>
<circle cx="433.1" cy="582.9" r="2.15"/>
<circle cx="448.5" cy="578.4" r="2.15"/>
<circle cx="434.4" cy="585.7" r="2.15"/>
<circle cx="444.9" cy="575.8" r="2.15"/>
<circle cx="415.5" cy="589.5" r="2.15"/>
<circle cx="452.8" cy="586.5" r="2.15"/>
<circle cx="431.3" cy="582.1" r="2.15"/>
<circle cx="446.9" cy="576.2" r="2.15"/>
<circle cx="436.9" cy="587.8" r="2.15"/>
<circle cx="433.8" cy="583.7" r="2.15"/>
<circle cx="446.9" cy="587.9" r="2.15"/>
<circle cx="458.8" cy="575.7" r="2.15"/>
<circle cx="436.5" cy="581.7" r="2.15"/>
<circle cx="414.5" cy="586.7" r="2.15"/>
<circle cx="445.2" cy="575.5" r="2.15"/>
<circle cx="451.7" cy="588.3" r="2.15"/>
<circle cx="444.1" cy="585.9" r="2.15"/>
<circle cx="423.6" cy="585.0" r="2.15"/>
<circle cx="466.0" cy="574.7" r="2.15"/>
<circle cx="447.2" cy="583.6" r="2.15"/>
<circle cx="439.0" cy="574.1" r="2.15"/>
<circle cx="426.8" cy="585.0" r="2.15"/>
<circle cx="457.9" cy="579.2" r="2.15"/>
<circle cx="417.1" cy="586.1" r="2.15"/>
<circle cx="456.8" cy="574.7" r="2.15"/>
<circle cx="445.6" cy="587.9" r="2.15"/>
<circle cx="463.3" cy="580.4" r="2.15"/>
<circle cx="439.6" cy="581.8" r="2.15"/>
<circle cx="422.5" cy="584.0" r="2.15"/>
<circle cx="433.0" cy="581.3" r="2.15"/>
<circle cx="435.3" cy="580.3" r="2.15"/>
<circle cx="418.2" cy="582.7" r="2.15"/>
<circle cx="457.7" cy="573.1" r="2.15"/>
<circle cx="446.6" cy="576.9" r="2.15"/>
<circle cx="413.9" cy="589.8" r="2.15"/>
<circle cx="462.2" cy="579.7" r="2.15"/>
<circle cx="444.9" cy="575.2" r="2.15"/>
<circle cx="457.2" cy="578.5" r="2.15"/>
<circle cx="444.3" cy="587.4" r="2.15"/>
<circle cx="438.6" cy="588.9" r="2.15"/>
<circle cx="464.8" cy="571.3" r="2.15"/>
<circle cx="446.7" cy="577.9" r="2.15"/>
<circle cx="419.0" cy="589.2" r="2.15"/>
<circle cx="426.9" cy="581.3" r="2.15"/>
<circle cx="450.8" cy="577.9" r="2.15"/>
<circle cx="438.0" cy="573.2" r="2.15"/>
<circle cx="426.8" cy="577.0" r="2.15"/>
<circle cx="460.6" cy="570.9" r="2.15"/>
<circle cx="457.6" cy="584.2" r="2.15"/>
<circle cx="451.3" cy="576.0" r="2.15"/>
<circle cx="446.3" cy="585.2" r="2.15"/>
<circle cx="439.9" cy="573.4" r="2.15"/>
<circle cx="453.6" cy="573.9" r="2.15"/>
<circle cx="414.1" cy="588.6" r="2.15"/>
<circle cx="424.8" cy="588.7" r="2.15"/>
<circle cx="420.1" cy="578.9" r="2.15"/>
<circle cx="417.6" cy="588.6" r="2.15"/>
<circle cx="460.9" cy="582.6" r="2.15"/>
<circle cx="438.2" cy="576.8" r="2.15"/>
<circle cx="459.7" cy="579.6" r="2.15"/>
<circle cx="448.4" cy="572.9" r="2.15"/>
<circle cx="453.4" cy="581.1" r="2.15"/>
<circle cx="420.4" cy="587.4" r="2.15"/>
<circle cx="427.5" cy="578.2" r="2.15"/>
<circle cx="460.7" cy="576.7" r="2.15"/>
<circle cx="421.7" cy="579.8" r="2.15"/>
<circle cx="430.4" cy="588.1" r="2.15"/>
<circle cx="418.6" cy="589.6" r="2.15"/>
<circle cx="415.3" cy="587.9" r="2.15"/>
<circle cx="450.8" cy="574.2" r="2.15"/>
<circle cx="439.7" cy="575.7" r="2.15"/>
<circle cx="464.0" cy="571.1" r="2.15"/>
<circle cx="454.1" cy="575.9" r="2.15"/>
<circle cx="468.8" cy="570.3" r="2.15"/>
<circle cx="458.8" cy="576.8" r="2.15"/>
<circle cx="460.3" cy="580.5" r="2.15"/>
<circle cx="422.8" cy="578.7" r="2.15"/>
<circle cx="464.9" cy="574.4" r="2.15"/>
<circle cx="445.1" cy="572.8" r="2.15"/>
<circle cx="422.4" cy="585.4" r="2.15"/>
<circle cx="453.3" cy="573.9" r="2.15"/>
<circle cx="447.3" cy="579.9" r="2.15"/>
<circle cx="447.5" cy="584.2" r="2.15"/>
<circle cx="459.1" cy="581.7" r="2.15"/>
<circle cx="454.5" cy="578.2" r="2.15"/>
<circle cx="453.9" cy="571.1" r="2.15"/>
<circle cx="459.0" cy="576.7" r="2.15"/>
<circle cx="464.8" cy="579.5" r="2.15"/>
<circle cx="462.6" cy="575.3" r="2.15"/>
<circle cx="422.8" cy="586.6" r="2.15"/>
<circle cx="433.5" cy="581.9" r="2.15"/>
<circle cx="412.3" cy="580.4" r="2.15"/>
<circle cx="437.9" cy="580.3" r="2.15"/>
<circle cx="419.0" cy="584.3" r="2.15"/>
<circle cx="430.6" cy="584.2" r="2.15"/>
<circle cx="434.1" cy="585.0" r="2.15"/>
<circle cx="415.6" cy="587.5" r="2.15"/>
<circle cx="467.3" cy="579.9" r="2.15"/>
<circle cx="441.8" cy="580.6" r="2.15"/>
<circle cx="468.1" cy="574.5" r="2.15"/>
<circle cx="426.5" cy="586.3" r="2.15"/>
<circle cx="452.5" cy="573.9" r="2.15"/>
<circle cx="413.0" cy="582.0" r="2.15"/>
<circle cx="445.4" cy="580.5" r="2.15"/>
<circle cx="452.8" cy="572.1" r="2.15"/>
<circle cx="462.4" cy="584.3" r="2.15"/>
<circle cx="440.6" cy="580.0" r="2.15"/>
<circle cx="446.3" cy="587.2" r="2.15"/>
<circle cx="420.5" cy="581.5" r="2.15"/>
<circle cx="455.3" cy="573.3" r="2.15"/>
<circle cx="434.5" cy="578.4" r="2.15"/>
<circle cx="460.7" cy="580.5" r="2.15"/>
<circle cx="434.9" cy="588.8" r="2.15"/>
<circle cx="457.1" cy="576.8" r="2.15"/>
<circle cx="448.1" cy="572.0" r="2.15"/>
<circle cx="450.5" cy="571.6" r="2.15"/>
<circle cx="453.1" cy="570.8" r="2.15"/>
<circle cx="455.5" cy="570.0" r="2.15"/>
<circle cx="457.4" cy="569.0" r="2.15"/>
<circle cx="460.3" cy="568.4" r="2.15"/>
<circle cx="462.2" cy="567.3" r="2.15"/>
<circle cx="464.8" cy="566.5" r="2.15"/>
<circle cx="467.1" cy="565.5" r="2.15"/>
<circle cx="469.4" cy="565.0" r="2.15"/>
<circle cx="471.6" cy="564.0" r="2.15"/>
<circle cx="474.5" cy="563.6" r="2.15"/>
<circle cx="449.3" cy="574.6" r="2.15"/>
<circle cx="451.5" cy="573.9" r="2.15"/>
<circle cx="454.0" cy="572.6" r="2.15"/>
<circle cx="456.2" cy="572.0" r="2.15"/>
<circle cx="458.6" cy="571.2" r="2.15"/>
<circle cx="460.8" cy="570.8" r="2.15"/>
<circle cx="463.3" cy="569.6" r="2.15"/>
<circle cx="465.6" cy="568.9" r="2.15"/>
<circle cx="468.2" cy="568.0" r="2.15"/>
<circle cx="470.2" cy="567.5" r="2.15"/>
<circle cx="472.4" cy="566.6" r="2.15"/>
<circle cx="475.3" cy="565.8" r="2.15"/>
<circle cx="449.7" cy="576.9" r="2.15"/>
<circle cx="452.2" cy="575.9" r="2.15"/>
<circle cx="454.3" cy="575.1" r="2.15"/>
<circle cx="456.8" cy="574.4" r="2.15"/>
<circle cx="459.1" cy="573.6" r="2.15"/>
<circle cx="461.4" cy="572.9" r="2.15"/>
<circle cx="464.2" cy="572.2" r="2.15"/>
<circle cx="466.4" cy="571.4" r="2.15"/>
<circle cx="468.5" cy="570.7" r="2.15"/>
<circle cx="471.0" cy="569.8" r="2.15"/>
<circle cx="473.5" cy="568.9" r="2.15"/>
<circle cx="475.7" cy="568.0" r="2.15"/>
<circle cx="472.3" cy="553.1" r="2.15"/>
<circle cx="476.1" cy="554.6" r="2.15"/>
<circle cx="487.5" cy="547.5" r="2.15"/>
<circle cx="480.2" cy="552.7" r="2.15"/>
<circle cx="474.0" cy="558.4" r="2.15"/>
<circle cx="470.8" cy="544.1" r="2.15"/>
<circle cx="487.7" cy="551.6" r="2.15"/>
<circle cx="468.5" cy="550.6" r="2.15"/>
<circle cx="477.5" cy="557.6" r="2.15"/>
<circle cx="469.6" cy="547.3" r="2.15"/>
<circle cx="470.7" cy="549.5" r="2.15"/>
<circle cx="475.4" cy="556.4" r="2.15"/>
<circle cx="481.7" cy="560.0" r="2.15"/>
<circle cx="486.5" cy="553.2" r="2.15"/>
<circle cx="484.6" cy="557.8" r="2.15"/>
<circle cx="485.1" cy="552.3" r="2.15"/>
<circle cx="485.7" cy="557.1" r="2.15"/>
<circle cx="485.2" cy="554.6" r="2.15"/>
<circle cx="478.8" cy="562.2" r="2.15"/>
<circle cx="480.6" cy="551.2" r="2.15"/>
<circle cx="485.7" cy="560.4" r="2.15"/>
<circle cx="481.5" cy="550.4" r="2.15"/>
<circle cx="477.8" cy="552.0" r="2.15"/>
<circle cx="484.2" cy="548.6" r="2.15"/>
<circle cx="476.3" cy="554.0" r="2.15"/>
<circle cx="476.2" cy="549.2" r="2.15"/>
<circle cx="485.7" cy="559.9" r="2.15"/>
<circle cx="478.9" cy="551.7" r="2.15"/>
<circle cx="471.4" cy="548.9" r="2.15"/>
<circle cx="470.5" cy="554.4" r="2.15"/>
<circle cx="480.8" cy="544.5" r="2.15"/>
<circle cx="488.9" cy="549.3" r="2.15"/>
<circle cx="487.1" cy="559.7" r="2.15"/>
<circle cx="477.1" cy="561.2" r="2.15"/>
<circle cx="480.4" cy="552.8" r="2.15"/>
<circle cx="488.9" cy="558.4" r="2.15"/>
<circle cx="479.3" cy="553.2" r="2.15"/>
<circle cx="483.3" cy="550.6" r="2.15"/>
<circle cx="475.5" cy="554.8" r="2.15"/>
<circle cx="475.4" cy="561.9" r="2.15"/>
<circle cx="483.1" cy="553.4" r="2.15"/>
<circle cx="469.4" cy="550.3" r="2.15"/>
<circle cx="476.5" cy="554.1" r="2.15"/>
<circle cx="480.7" cy="560.6" r="2.15"/>
<circle cx="490.0" cy="552.6" r="2.15"/>
<circle cx="479.2" cy="594.3" r="2.15"/>
<circle cx="482.8" cy="594.1" r="2.15"/>
<circle cx="485.7" cy="594.4" r="2.15"/>
<circle cx="488.8" cy="594.1" r="2.15"/>
<circle cx="492.5" cy="594.4" r="2.15"/>
<circle cx="495.5" cy="594.0" r="2.15"/>
<circle cx="499.0" cy="594.3" r="2.15"/>
<circle cx="502.2" cy="594.5" r="2.15"/>
<circle cx="505.5" cy="594.2" r="2.15"/>
<circle cx="487.8" cy="536.9" r="2.15"/>
<circle cx="491.5" cy="537.0" r="2.15"/>
<circle cx="494.7" cy="536.8" r="2.15"/>
<circle cx="498.5" cy="537.1" r="2.15"/>
<circle cx="501.8" cy="537.3" r="2.15"/>
<circle cx="505.4" cy="536.7" r="2.15"/>
<circle cx="476.2" cy="527.3" r="2.15"/>
<circle cx="473.6" cy="525.7" r="2.15"/>
<circle cx="486.9" cy="523.9" r="2.15"/>
<circle cx="482.6" cy="517.2" r="2.15"/>
<circle cx="478.3" cy="523.3" r="2.15"/>
<circle cx="472.6" cy="524.9" r="2.15"/>
<circle cx="479.2" cy="531.0" r="2.15"/>
<circle cx="480.2" cy="520.9" r="2.15"/>
<circle cx="479.0" cy="528.0" r="2.15"/>
<circle cx="481.2" cy="527.7" r="2.15"/>
<circle cx="485.1" cy="519.4" r="2.15"/>
<circle cx="483.7" cy="519.9" r="2.15"/>
<circle cx="470.2" cy="518.4" r="2.15"/>
<circle cx="480.4" cy="519.8" r="2.15"/>
<circle cx="477.2" cy="520.4" r="2.15"/>
<circle cx="480.5" cy="530.3" r="2.15"/>
<circle cx="476.9" cy="524.5" r="2.15"/>
<circle cx="472.2" cy="514.6" r="2.15"/>
<circle cx="489.1" cy="528.5" r="2.15"/>
<circle cx="473.8" cy="529.3" r="2.15"/>
<circle cx="486.2" cy="519.0" r="2.15"/>
<circle cx="480.9" cy="530.3" r="2.15"/>
<circle cx="478.3" cy="530.1" r="2.15"/>
<circle cx="472.0" cy="520.5" r="2.15"/>
<circle cx="483.8" cy="517.6" r="2.15"/>
<circle cx="473.7" cy="528.9" r="2.15"/>
<circle cx="478.0" cy="527.4" r="2.15"/>
<circle cx="472.0" cy="516.8" r="2.15"/>
<circle cx="474.9" cy="517.0" r="2.15"/>
<circle cx="490.1" cy="518.8" r="2.15"/>
<circle cx="472.7" cy="492.8" r="2.15"/>
<circle cx="475.4" cy="493.6" r="2.15"/>
<circle cx="478.0" cy="493.9" r="2.15"/>
<circle cx="480.5" cy="494.9" r="2.15"/>
<circle cx="483.3" cy="495.1" r="2.15"/>
<circle cx="485.9" cy="495.7" r="2.15"/>
<circle cx="488.6" cy="496.1" r="2.15"/>
<circle cx="491.5" cy="496.9" r="2.15"/>
<circle cx="493.9" cy="497.6" r="2.15"/>
<circle cx="496.5" cy="497.9" r="2.15"/>
<circle cx="499.6" cy="498.4" r="2.15"/>
<circle cx="502.0" cy="499.4" r="2.15"/>
<circle cx="504.9" cy="499.5" r="2.15"/>
<circle cx="507.3" cy="500.4" r="2.15"/>
<circle cx="471.9" cy="496.8" r="2.15"/>
<circle cx="474.5" cy="497.3" r="2.15"/>
<circle cx="477.3" cy="497.4" r="2.15"/>
<circle cx="480.0" cy="497.9" r="2.15"/>
<circle cx="482.8" cy="498.6" r="2.15"/>
<circle cx="485.6" cy="499.3" r="2.15"/>
<circle cx="487.9" cy="499.7" r="2.15"/>
<circle cx="490.7" cy="500.2" r="2.15"/>
<circle cx="493.6" cy="500.7" r="2.15"/>
<circle cx="496.0" cy="501.5" r="2.15"/>
<circle cx="498.6" cy="502.2" r="2.15"/>
<circle cx="501.3" cy="502.7" r="2.15"/>
<circle cx="504.1" cy="503.0" r="2.15"/>
<circle cx="506.6" cy="503.5" r="2.15"/>
<circle cx="471.1" cy="500.1" r="2.15"/>
<circle cx="473.9" cy="500.6" r="2.15"/>
<circle cx="476.4" cy="501.1" r="2.15"/>
<circle cx="479.2" cy="501.6" r="2.15"/>
<circle cx="481.8" cy="501.9" r="2.15"/>
<circle cx="484.5" cy="502.5" r="2.15"/>
<circle cx="487.1" cy="503.4" r="2.15"/>
<circle cx="489.8" cy="503.7" r="2.15"/>
<circle cx="492.9" cy="504.5" r="2.15"/>
<circle cx="495.5" cy="505.1" r="2.15"/>
<circle cx="497.8" cy="505.3" r="2.15"/>
<circle cx="500.4" cy="506.1" r="2.15"/>
<circle cx="503.4" cy="506.5" r="2.15"/>
<circle cx="505.9" cy="507.2" r="2.15"/>
<circle cx="479.1" cy="506.4" r="2.15"/>
<circle cx="482.9" cy="506.5" r="2.15"/>
<circle cx="486.4" cy="506.4" r="2.15"/>
<circle cx="489.8" cy="506.8" r="2.15"/>
<circle cx="485.1" cy="467.7" r="2.15"/>
<circle cx="488.5" cy="467.3" r="2.15"/>
<circle cx="492.3" cy="467.4" r="2.15"/>
<circle cx="496.2" cy="467.5" r="2.15"/>
<circle cx="499.8" cy="467.5" r="2.15"/>
<circle cx="503.9" cy="467.4" r="2.15"/>
<circle cx="475.7" cy="461.8" r="2.15"/>
<circle cx="475.9" cy="458.0" r="2.15"/>
<circle cx="476.0" cy="454.6" r="2.15"/>
<circle cx="476.2" cy="450.6" r="2.15"/>
<circle cx="476.7" cy="447.4" r="2.15"/>
<circle cx="477.4" cy="461.6" r="2.15"/>
<circle cx="478.0" cy="458.3" r="2.15"/>
<circle cx="477.7" cy="454.5" r="2.15"/>
<circle cx="478.0" cy="451.2" r="2.15"/>
<circle cx="478.3" cy="447.6" r="2.15"/>
<circle cx="457.6" cy="526.8" r="2.15"/>
</g>
<rect x="262.2" y="533.6" width="247" height="69.8" fill="none" stroke="#cc5520" stroke-width="2" stroke-dasharray="12 6.5"/>
<rect x="260.5" y="434.7" width="257.70000000000005" height="190.09999999999997" fill="none" stroke="#333" stroke-width="1.3"/>
<line x1="256.30" y1="612.70" x2="260.50" y2="612.70" stroke="#333" stroke-width="1.2" />
<text x="253.6" y="616.6" font-family='"Liberation Serif", serif' font-size="11.7" font-weight="bold" font-style="normal" fill="#000" text-anchor="end" >200</text>
<line x1="256.30" y1="587.95" x2="260.50" y2="587.95" stroke="#333" stroke-width="1.2" />
<text x="253.6" y="591.845" font-family='"Liberation Serif", serif' font-size="11.7" font-weight="bold" font-style="normal" fill="#000" text-anchor="end" >250</text>
<line x1="256.30" y1="563.19" x2="260.50" y2="563.19" stroke="#333" stroke-width="1.2" />
<text x="253.6" y="567.09" font-family='"Liberation Serif", serif' font-size="11.7" font-weight="bold" font-style="normal" fill="#000" text-anchor="end" >300</text>
<line x1="256.30" y1="538.44" x2="260.50" y2="538.44" stroke="#333" stroke-width="1.2" />
<text x="253.6" y="542.335" font-family='"Liberation Serif", serif' font-size="11.7" font-weight="bold" font-style="normal" fill="#000" text-anchor="end" >350</text>
<line x1="256.30" y1="513.68" x2="260.50" y2="513.68" stroke="#333" stroke-width="1.2" />
<text x="253.6" y="517.58" font-family='"Liberation Serif", serif' font-size="11.7" font-weight="bold" font-style="normal" fill="#000" text-anchor="end" >400</text>
<line x1="256.30" y1="488.93" x2="260.50" y2="488.93" stroke="#333" stroke-width="1.2" />
<text x="253.6" y="492.82500000000005" font-family='"Liberation Serif", serif' font-size="11.7" font-weight="bold" font-style="normal" fill="#000" text-anchor="end" >450</text>
<line x1="256.30" y1="464.17" x2="260.50" y2="464.17" stroke="#333" stroke-width="1.2" />
<text x="253.6" y="468.07000000000005" font-family='"Liberation Serif", serif' font-size="11.7" font-weight="bold" font-style="normal" fill="#000" text-anchor="end" >500</text>
<line x1="256.30" y1="439.42" x2="260.50" y2="439.42" stroke="#333" stroke-width="1.2" />
<text x="253.6" y="443.31500000000005" font-family='"Liberation Serif", serif' font-size="11.7" font-weight="bold" font-style="normal" fill="#000" text-anchor="end" >550</text>
<line x1="258.30" y1="625.08" x2="260.50" y2="625.08" stroke="#333" stroke-width="1.0" />
<line x1="258.30" y1="600.32" x2="260.50" y2="600.32" stroke="#333" stroke-width="1.0" />
<line x1="258.30" y1="575.57" x2="260.50" y2="575.57" stroke="#333" stroke-width="1.0" />
<line x1="258.30" y1="550.81" x2="260.50" y2="550.81" stroke="#333" stroke-width="1.0" />
<line x1="258.30" y1="526.06" x2="260.50" y2="526.06" stroke="#333" stroke-width="1.0" />
<line x1="258.30" y1="501.30" x2="260.50" y2="501.30" stroke="#333" stroke-width="1.0" />
<line x1="258.30" y1="476.55" x2="260.50" y2="476.55" stroke="#333" stroke-width="1.0" />
<line x1="258.30" y1="451.79" x2="260.50" y2="451.79" stroke="#333" stroke-width="1.0" />
<line x1="268.40" y1="624.80" x2="268.40" y2="629.00" stroke="#333" stroke-width="1.2" />
<text x="268.4" y="640.9" font-family='"Liberation Serif", serif' font-size="11.7" font-weight="bold" font-style="normal" fill="#000" text-anchor="middle" >0</text>
<line x1="302.80" y1="624.80" x2="302.80" y2="629.00" stroke="#333" stroke-width="1.2" />
<text x="302.79999999999995" y="640.9" font-family='"Liberation Serif", serif' font-size="11.7" font-weight="bold" font-style="normal" fill="#000" text-anchor="middle" >2000</text>
<line x1="337.20" y1="624.80" x2="337.20" y2="629.00" stroke="#333" stroke-width="1.2" />
<text x="337.2" y="640.9" font-family='"Liberation Serif", serif' font-size="11.7" font-weight="bold" font-style="normal" fill="#000" text-anchor="middle" >4000</text>
<line x1="371.60" y1="624.80" x2="371.60" y2="629.00" stroke="#333" stroke-width="1.2" />
<text x="371.59999999999997" y="640.9" font-family='"Liberation Serif", serif' font-size="11.7" font-weight="bold" font-style="normal" fill="#000" text-anchor="middle" >6000</text>
<line x1="406.00" y1="624.80" x2="406.00" y2="629.00" stroke="#333" stroke-width="1.2" />
<text x="406.0" y="640.9" font-family='"Liberation Serif", serif' font-size="11.7" font-weight="bold" font-style="normal" fill="#000" text-anchor="middle" >8000</text>
<line x1="440.40" y1="624.80" x2="440.40" y2="629.00" stroke="#333" stroke-width="1.2" />
<text x="440.4" y="640.9" font-family='"Liberation Serif", serif' font-size="11.7" font-weight="bold" font-style="normal" fill="#000" text-anchor="middle" >10000</text>
<line x1="474.80" y1="624.80" x2="474.80" y2="629.00" stroke="#333" stroke-width="1.2" />
<text x="474.79999999999995" y="640.9" font-family='"Liberation Serif", serif' font-size="11.7" font-weight="bold" font-style="normal" fill="#000" text-anchor="middle" >12000</text>
<line x1="509.20" y1="624.80" x2="509.20" y2="629.00" stroke="#333" stroke-width="1.2" />
<text x="509.2" y="640.9" font-family='"Liberation Serif", serif' font-size="11.7" font-weight="bold" font-style="normal" fill="#000" text-anchor="middle" >14000</text>
<line x1="285.60" y1="624.80" x2="285.60" y2="627.00" stroke="#333" stroke-width="1.0" />
<line x1="320.00" y1="624.80" x2="320.00" y2="627.00" stroke="#333" stroke-width="1.0" />
<line x1="354.40" y1="624.80" x2="354.40" y2="627.00" stroke="#333" stroke-width="1.0" />
<line x1="388.80" y1="624.80" x2="388.80" y2="627.00" stroke="#333" stroke-width="1.0" />
<line x1="423.20" y1="624.80" x2="423.20" y2="627.00" stroke="#333" stroke-width="1.0" />
<line x1="457.60" y1="624.80" x2="457.60" y2="627.00" stroke="#333" stroke-width="1.0" />
<line x1="492.00" y1="624.80" x2="492.00" y2="627.00" stroke="#333" stroke-width="1.0" />
<text x="389.5" y="656.3" font-family='"Liberation Serif", serif' font-size="15" font-weight="bold" font-style="normal" fill="#000" text-anchor="middle" >Meta-atom #</text>
<text x="-53.7" y="0" font-family='"Liberation Serif", serif' font-size="16.5" font-weight="bold" textLength="107.4" lengthAdjust="spacingAndGlyphs" transform="translate(228.6,539.9) rotate(-90)">Group delay (fs)</text>
<text x="263.0" y="468.2" font-family='"Liberation Sans", sans-serif' font-size="41.5" font-weight="bold">(c)</text>
<text x="516.7" y="30.0" font-family='"Liberation Sans", sans-serif' font-size="41.5" font-weight="bold">(d)</text>
<path d="M543.3,46.6 L1321.6,46.6" fill="none" stroke="#111" stroke-width="2" stroke-dasharray="13.3 7.0" stroke-dashoffset="9.3"/>
<path d="M543.3,46.6 L543.3,640.4" fill="none" stroke="#111" stroke-width="2" stroke-dasharray="13.3 7.0"/>
<path d="M1322.2,50.3 L1322.2,640.4" fill="none" stroke="#111" stroke-width="2.4" stroke-dasharray="13.3 7.0"/>
<path d="M543.3,640.4 L1321.8,640.4" fill="none" stroke="#111" stroke-width="2" stroke-dasharray="13.3 7.0" stroke-dashoffset="6.6"/>
<rect x="544.5" y="53.5" width="242.0" height="184.0" fill="#f0f0f0" stroke="#767676" stroke-width="1.15"/>
<rect x="544.5" y="323.5" width="246.0" height="79.0" fill="#f0f0f0" stroke="#767676" stroke-width="1.15"/>
<rect x="544.5" y="476.5" width="246.0" height="150.0" fill="#f0f0f0" stroke="#767676" stroke-width="1.15"/>
<rect x="832.5" y="55.5" width="488.0" height="110.0" fill="#f0f0f0" stroke="#767676" stroke-width="1.15"/>
<rect x="832.5" y="191.5" width="247.0" height="80.0" fill="#f0f0f0" stroke="#767676" stroke-width="1.15"/>
<rect x="835.5" y="312.5" width="247.0" height="80.0" fill="#f0f0f0" stroke="#767676" stroke-width="1.15"/>
<rect x="822.5" y="424.5" width="278.0" height="80.0" fill="#f0f0f0" stroke="#767676" stroke-width="1.15"/>
<rect x="1122.5" y="530.5" width="178.0" height="97.0" fill="#f0f0f0" stroke="#767676" stroke-width="1.15"/>
<polygon points="954.70,541.20 1043.00,577.60 954.70,613.70 867.60,577.60" fill="#f0f0f0" stroke="#555" stroke-width="1.3" />
<line x1="665.00" y1="237.60" x2="665.00" y2="309.00" stroke="#000" stroke-width="1.7" />
<polygon points="665.00,317.60 658.80,305.60 665.00,308.00 671.20,305.60" fill="#000" stroke="none" stroke-width="0" />
<line x1="665.40" y1="476.60" x2="665.40" y2="414.00" stroke="#000" stroke-width="1.7" />
<polygon points="665.40,405.00 671.60,417.00 665.40,414.60 659.20,417.00" fill="#000" stroke="none" stroke-width="0" />
<polyline points="790.00,359.60 808.80,359.60 808.80,103.10 824.00,103.10" stroke="#000" stroke-width="1.7" fill="none" />
<polygon points="832.70,103.10 820.70,109.30 823.10,103.10 820.70,96.90" fill="#000" stroke="none" stroke-width="0" />
<line x1="952.50" y1="165.20" x2="952.50" y2="181.00" stroke="#000" stroke-width="1.7" />
<polygon points="952.50,189.60 946.30,177.60 952.50,180.00 958.70,177.60" fill="#000" stroke="none" stroke-width="0" />
<line x1="952.30" y1="271.50" x2="952.30" y2="302.00" stroke="#000" stroke-width="1.7" />
<polygon points="952.30,310.20 946.10,298.20 952.30,300.60 958.50,298.20" fill="#000" stroke="none" stroke-width="0" />
<line x1="952.80" y1="392.40" x2="952.80" y2="414.00" stroke="#000" stroke-width="1.7" />
<polygon points="952.80,422.20 946.60,410.20 952.80,412.60 959.00,410.20" fill="#000" stroke="none" stroke-width="0" />
<line x1="954.70" y1="504.50" x2="954.70" y2="533.00" stroke="#000" stroke-width="1.7" />
<polygon points="954.70,541.20 948.50,529.20 954.70,531.60 960.90,529.20" fill="#000" stroke="none" stroke-width="0" />
<line x1="867.60" y1="577.60" x2="813.00" y2="577.60" stroke="#000" stroke-width="1.7" />
<polygon points="804.90,577.60 816.90,571.40 814.50,577.60 816.90,583.80" fill="#000" stroke="none" stroke-width="0" />
<line x1="1043.00" y1="578.30" x2="1114.00" y2="579.00" stroke="#000" stroke-width="1.7" />
<polygon points="1122.50,579.10 1110.50,585.30 1112.90,579.10 1110.50,572.90" fill="#000" stroke="none" stroke-width="0" />
<line x1="1211.70" y1="530.10" x2="1213.30" y2="477.00" stroke="#000" stroke-width="1.7" />
<polygon points="1213.60,468.20 1219.44,480.38 1213.31,477.80 1207.04,480.01" fill="#000" stroke="none" stroke-width="0" />
<text x="570.5" y="77.3" font-family='"Liberation Serif", serif' font-size="27" font-style="normal" font-weight="normal" fill="#000" textLength="188.6" lengthAdjust="spacingAndGlyphs">Initial parameters</text>
<text x="567.3" y="108.6" font-family='"Liberation Serif", serif' font-size="22.5" font-style="normal" font-weight="normal" fill="#1414bc" textLength="17.1" lengthAdjust="spacingAndGlyphs"><tspan font-style="italic">I</tspan><tspan font-size="15" dy="3.5">t</tspan><tspan dy="-3.5">,</tspan></text>
<text x="595.1" y="108.6" font-family='"Liberation Serif", serif' font-size="22.5" font-style="normal" font-weight="normal" fill="#1414bc" textLength="31.4" lengthAdjust="spacingAndGlyphs">Δ<tspan font-style="italic">f</tspan><tspan font-size="15" dy="3.5">t</tspan><tspan dy="-3.5">,</tspan></text>
<text x="636.4" y="108.6" font-family='"Liberation Serif", serif' font-size="22.5" font-style="normal" font-weight="normal" fill="#1414bc" textLength="82.9" lengthAdjust="spacingAndGlyphs"><tspan font-style="italic">FWHM</tspan><tspan font-size="15" dy="3.5">t</tspan><tspan dy="-3.5">,</tspan></text>
<text x="723.7" y="108.6" font-family='"Liberation Serif", serif' font-size="22.5" font-style="normal" font-weight="normal" fill="#1414bc" textLength="37.7" lengthAdjust="spacingAndGlyphs"><tspan font-style="italic">SR</tspan><tspan font-size="15" dy="3.5">t</tspan><tspan dy="-3.5">,</tspan></text>
<text x="607.8" y="138.0" font-family='"Liberation Serif", serif' font-size="22.5" font-style="normal" font-weight="normal" fill="#1414bc" textLength="24.2" lengthAdjust="spacingAndGlyphs">λ<tspan font-size="15" dy="3.5">1</tspan><tspan dy="-3.5">,</tspan></text>
<text x="645.1" y="138.0" font-family='"Liberation Serif", serif' font-size="22.5" font-style="normal" font-weight="normal" fill="#1414bc" textLength="21.1" lengthAdjust="spacingAndGlyphs">λ<tspan font-size="15" dy="3.5">2</tspan><tspan dy="-3.5">,</tspan></text>
<text x="676.9" y="138.0" font-family='"Liberation Serif", serif' font-size="22.5" font-style="normal" font-weight="normal" fill="#1414bc" textLength="49.6" lengthAdjust="spacingAndGlyphs">...,λ<tspan font-size="15" dy="3.5">L;</tspan></text>
<text x="548.9" y="168.1" font-family='"Liberation Serif", serif' font-size="23.2" font-style="normal" font-weight="normal" fill="#1414bc" textLength="57.5" lengthAdjust="spacingAndGlyphs">ΔGD:</text>
<text x="621.5" y="168.1" font-family='"Liberation Serif", serif' font-size="23.2" font-style="normal" font-weight="normal" fill="#1414bc" textLength="78.3" lengthAdjust="spacingAndGlyphs">GDmax,</text>
<text x="708.6" y="168.1" font-family='"Liberation Serif", serif' font-size="23.2" font-style="normal" font-weight="normal" fill="#1414bc" textLength="71.0" lengthAdjust="spacingAndGlyphs">GDmin</text>
<text x="570.7" y="196.3" font-family='"Liberation Serif", serif' font-size="22.5" font-style="normal" font-weight="normal" fill="#1414bc" textLength="73.8" lengthAdjust="spacingAndGlyphs">particle:</text>
<text x="653.2" y="196.3" font-family='"Liberation Serif", serif' font-size="22.5" font-style="normal" font-weight="normal" fill="#1414bc" textLength="37.5" lengthAdjust="spacingAndGlyphs">P<tspan font-size="15" dy="3.5">1</tspan><tspan dy="-3.5">~</tspan></text>
<text x="693.2" y="196.3" font-family='"Liberation Serif", serif' font-size="22.5" font-style="normal" font-weight="normal" fill="#1414bc" textLength="69.2" lengthAdjust="spacingAndGlyphs">P<tspan font-size="16" dy="3.5">N_particle</tspan></text>
<text x="572.3" y="229.3" font-family='"Liberation Serif", serif' font-size="20" font-style="normal" font-weight="normal" fill="#1414bc" textLength="41.1" lengthAdjust="spacingAndGlyphs">ΔΦ<tspan font-style="italic" font-size="13" dy="3.5">i</tspan><tspan dy="-3.5"> ,</tspan></text>
<text x="623.6" y="229.3" font-family='"Liberation Serif", serif' font-size="20" font-style="normal" font-weight="normal" fill="#1414bc" textLength="95.0" lengthAdjust="spacingAndGlyphs"><tspan font-style="italic">i</tspan>=1,2,···,<tspan font-style="italic">Nr</tspan></text>
<text x="603" y="355.9" font-family='"Liberation Serif", serif' font-size="30.3" font-style="normal" font-weight="normal" fill="#000" textLength="127.0" lengthAdjust="spacingAndGlyphs">Input field</text>
<text x="561.4" y="390.0" font-family='"Liberation Serif", serif' font-size="25.5" font-style="normal" font-weight="normal" fill="#1414bc" textLength="205.3" lengthAdjust="spacingAndGlyphs"><tspan font-style="italic">U</tspan>(<tspan font-style="italic">x</tspan>,<tspan font-style="italic">y</tspan>,0,λ)=Aexp(j)</text>
<text x="588.7" y="530.7" font-family='"Liberation Serif", serif' font-size="30.2" font-style="normal" font-weight="normal" fill="#000" textLength="185.1" lengthAdjust="spacingAndGlyphs">Update particle</text>
<text x="559.4" y="560.9" font-family='"Liberation Serif", serif' font-size="21" font-style="normal" font-weight="normal" fill="#1414bc" textLength="28.4" lengthAdjust="spacingAndGlyphs">P<tspan font-size="14" dy="3">1</tspan><tspan dy="-3">:</tspan></text>
<text x="598.4" y="560.9" font-family='"Liberation Serif", serif' font-size="21" font-style="normal" font-weight="normal" fill="#1414bc" textLength="42.9" lengthAdjust="spacingAndGlyphs">ΔΦ<tspan font-style="italic" font-size="13" dy="3.5">i</tspan><tspan dy="-3.5"> ,</tspan></text>
<text x="655.5" y="560.9" font-family='"Liberation Serif", serif' font-size="21" font-style="normal" font-weight="normal" fill="#1414bc" textLength="94.6" lengthAdjust="spacingAndGlyphs"><tspan font-style="italic">i</tspan>=1,2,···,<tspan font-style="italic">Nr</tspan></text>
<text x="558.0" y="591.7" font-family='"Liberation Serif", serif' font-size="21" font-style="normal" font-weight="normal" fill="#1414bc" textLength="75.1" lengthAdjust="spacingAndGlyphs">P<tspan font-size="15" dy="3">N_particle</tspan><tspan dy="-3">:</tspan></text>
<text x="638.3" y="591.7" font-family='"Liberation Serif", serif' font-size="21" font-style="normal" font-weight="normal" fill="#1414bc" textLength="37.5" lengthAdjust="spacingAndGlyphs">ΔΦ<tspan font-style="italic" font-size="13" dy="3.5">i</tspan><tspan dy="-3.5">,</tspan></text>
<text x="689.1" y="591.7" font-family='"Liberation Serif", serif' font-size="21" font-style="normal" font-weight="normal" fill="#1414bc" textLength="96.4" lengthAdjust="spacingAndGlyphs"><tspan font-style="italic">i</tspan>=1,2,···,<tspan font-style="italic">Nr</tspan></text>
<text x="870.5" y="89.9" font-family='"Liberation Serif", serif' font-size="30.6" font-style="normal" font-weight="normal" fill="#000" textLength="415.0" lengthAdjust="spacingAndGlyphs">Vector Angular Spectrum Method</text>
<text x="0" y="0" font-family='"Liberation Serif", serif' font-size="27" font-style="italic" fill="#2424ff" stroke="#2424ff" stroke-width="0.2" transform="translate(836.40,150.9) scale(0.888,1)">U</text>
<text x="0" y="0" font-family='"Liberation Serif", serif' font-size="27" font-style="normal" fill="#2424ff" stroke="#2424ff" stroke-width="0.2" transform="translate(857.50,150.9) scale(0.873,1)">(</text>
<text x="0" y="0" font-family='"Liberation Serif", serif' font-size="27" font-style="italic" fill="#2424ff" stroke="#2424ff" stroke-width="0.2" transform="translate(866.30,150.9) scale(0.990,1)">x</text>
<text x="879.50" y="150.9" font-family='"Liberation Serif", serif' font-size="27" font-style="normal" fill="#2424ff" stroke="#2424ff" stroke-width="0.2">,</text>
<text x="0" y="0" font-family='"Liberation Serif", serif' font-size="27" font-style="italic" fill="#2424ff" stroke="#2424ff" stroke-width="0.2" transform="translate(890.70,150.9) scale(0.957,1)">y</text>
<text x="904.50" y="150.9" font-family='"Liberation Serif", serif' font-size="27" font-style="normal" fill="#2424ff" stroke="#2424ff" stroke-width="0.2">,</text>
<text x="0" y="0" font-family='"Liberation Serif", serif' font-size="27" font-style="italic" fill="#2424ff" stroke="#2424ff" stroke-width="0.2" transform="translate(912.87,150.9) scale(0.905,1)">z</text>
<text x="0" y="0" font-family='"Liberation Serif", serif' font-size="27" font-style="normal" fill="#2424ff" stroke="#2424ff" stroke-width="0.2" transform="translate(924.80,150.9) scale(0.873,1)">)</text>
<text x="0" y="0" font-family='"Liberation Serif", serif' font-size="27" font-style="normal" fill="#2424ff" stroke="#2424ff" stroke-width="0.2" transform="translate(939.00,150.9) scale(0.937,1)">=</text>
<path d="M961.40,140.50 C959.70,138.50 962.70,133.70 966.70,134.40 C970.20,135.00 972.70,136.20 976.00,133.60 M961.40,140.50 C962.40,141.40 964.00,140.80 963.80,139.00 M975.40,137.50 C971.40,139.50 972.40,143.50 972.80,146.20 C973.20,150.20 969.70,151.60 966.20,151.10 C963.70,150.70 961.80,149.40 960.20,148.60" fill="none" stroke="#2424ff" stroke-width="2.10" stroke-linecap="round" stroke-linejoin="round"/>
<text x="0" y="0" font-family='"Liberation Serif", serif' font-size="14.5" font-style="normal" fill="#2424ff" stroke="#2424ff" stroke-width="0.2" transform="translate(977.20,139.7) scale(0.879,1)">−</text>
<text x="0" y="0" font-family='"Liberation Serif", serif' font-size="14.5" font-style="normal" fill="#2424ff" stroke="#2424ff" stroke-width="0.2" transform="translate(987.00,139.7) scale(0.524,1)">1</text>
<text x="0" y="0" font-family='"Liberation Serif", serif' font-size="27" font-style="normal" fill="#2424ff" stroke="#2424ff" stroke-width="0.2" transform="translate(996.30,152.4) scale(0.494,1)">{</text>
<path d="M1005.60,140.50 C1003.90,138.50 1006.90,133.70 1010.90,134.40 C1014.40,135.00 1016.90,136.20 1020.20,133.60 M1005.60,140.50 C1006.60,141.40 1008.20,140.80 1008.00,139.00 M1019.60,137.50 C1015.60,139.50 1016.60,143.50 1017.00,146.20 C1017.40,150.20 1013.90,151.60 1010.40,151.10 C1007.90,150.70 1006.00,149.40 1004.40,148.60" fill="none" stroke="#2424ff" stroke-width="2.10" stroke-linecap="round" stroke-linejoin="round"/>
<text x="0" y="0" font-family='"Liberation Serif", serif' font-size="27" font-style="italic" fill="#2424ff" stroke="#2424ff" stroke-width="0.2" transform="translate(1023.70,150.9) scale(0.855,1)">U</text>
<text x="0" y="0" font-family='"Liberation Serif", serif' font-size="27" font-style="normal" fill="#2424ff" stroke="#2424ff" stroke-width="0.2" transform="translate(1043.80,150.9) scale(0.873,1)">(</text>
<text x="0" y="0" font-family='"Liberation Serif", serif' font-size="27" font-style="italic" fill="#2424ff" stroke="#2424ff" stroke-width="0.2" transform="translate(1053.20,150.9) scale(0.982,1)">x</text>
<text x="1066.00" y="150.9" font-family='"Liberation Serif", serif' font-size="27" font-style="normal" fill="#2424ff" stroke="#2424ff" stroke-width="0.2">,</text>
<text x="0" y="0" font-family='"Liberation Serif", serif' font-size="27" font-style="italic" fill="#2424ff" stroke="#2424ff" stroke-width="0.2" transform="translate(1077.29,150.9) scale(0.999,1)">y</text>
<text x="1090.50" y="150.9" font-family='"Liberation Serif", serif' font-size="27" font-style="normal" fill="#2424ff" stroke="#2424ff" stroke-width="0.2">,</text>
<text x="0" y="0" font-family='"Liberation Serif", serif' font-size="27" font-style="normal" fill="#2424ff" stroke="#2424ff" stroke-width="0.2" transform="translate(1099.40,150.9) scale(0.859,1)">0</text>
<text x="0" y="0" font-family='"Liberation Serif", serif' font-size="27" font-style="normal" fill="#2424ff" stroke="#2424ff" stroke-width="0.2" transform="translate(1111.50,150.9) scale(0.884,1)">)</text>
<line x1="1125.40" y1="139.40" x2="1134.70" y2="149.40" stroke="#2424ff" stroke-width="1.5" />
<line x1="1134.70" y1="139.40" x2="1125.40" y2="149.40" stroke="#2424ff" stroke-width="1.5" />
<text x="0" y="0" font-family='"Liberation Serif", serif' font-size="27" font-style="italic" fill="#2424ff" stroke="#2424ff" stroke-width="0.2" transform="translate(1140.60,150.9) scale(0.924,1)">e</text>
<text x="0" y="0" font-family='"Liberation Serif", serif' font-size="16" font-style="normal" fill="#2424ff" stroke="#2424ff" stroke-width="0.2" transform="translate(1152.40,133.1) scale(0.821,1)">(</text>
<text x="0" y="0" font-family='"Liberation Serif", serif' font-size="16" font-style="italic" fill="#2424ff" stroke="#2424ff" stroke-width="0.2" transform="translate(1158.20,131.6) scale(0.982,1)">i</text>
<line x1="1163.30" y1="128.00" x2="1181.30" y2="128.00" stroke="#2424ff" stroke-width="1.2" />
<text x="1164.70" y="122.3" font-family='"Liberation Serif", serif' font-size="16" font-style="normal" fill="#2424ff" stroke="#2424ff" stroke-width="0.2">2</text>
<text x="0" y="0" font-family='"Liberation Serif", serif' font-size="16" font-style="italic" fill="#2424ff" stroke="#2424ff" stroke-width="0.2" transform="translate(1172.50,122.3) scale(0.976,1)">π</text>
<text x="0" y="0" font-family='"Liberation Serif", serif' font-size="16" font-style="italic" fill="#2424ff" stroke="#2424ff" stroke-width="0.2" transform="translate(1169.38,141.5) scale(0.938,1)">λ</text>
<polyline points="1183.40,127.60 1185.60,126.30 1189.40,135.60 1192.20,113.60 1293.00,113.60" stroke="#2424ff" stroke-width="1.3" fill="none" />
<text x="0" y="0" font-family='"Liberation Serif", serif' font-size="16" font-style="normal" fill="#2424ff" stroke="#2424ff" stroke-width="0.2" transform="translate(1193.60,131.6) scale(0.425,1)">1</text>
<text x="0" y="0" font-family='"Liberation Serif", serif' font-size="16" font-style="normal" fill="#2424ff" stroke="#2424ff" stroke-width="0.2" transform="translate(1198.30,131.1) scale(0.830,1)">−</text>
<text x="0" y="0" font-family='"Liberation Serif", serif' font-size="16" font-style="normal" fill="#2424ff" stroke="#2424ff" stroke-width="0.2" transform="translate(1207.90,133.1) scale(0.765,1)">(</text>
<text x="0" y="0" font-family='"Liberation Serif", serif' font-size="16" font-style="italic" fill="#2424ff" stroke="#2424ff" stroke-width="0.2" transform="translate(1213.63,131.6) scale(0.829,1)">λ</text>
<text x="0" y="0" font-family='"Liberation Serif", serif' font-size="16" font-style="italic" fill="#2424ff" stroke="#2424ff" stroke-width="0.2" transform="translate(1218.70,131.6) scale(0.870,1)">f</text>
<text x="0" y="0" font-family='"Liberation Serif", serif' font-size="16" font-style="italic" fill="#2424ff" stroke="#2424ff" stroke-width="0.2" transform="translate(1224.40,131.6) scale(0.829,1)">x</text>
<text x="0" y="0" font-family='"Liberation Serif", serif' font-size="16" font-style="normal" fill="#2424ff" stroke="#2424ff" stroke-width="0.2" transform="translate(1232.00,133.1) scale(0.802,1)">)</text>
<text x="0" y="0" font-family='"Liberation Serif", serif' font-size="11" font-style="normal" fill="#2424ff" stroke="#2424ff" stroke-width="0.2" transform="translate(1238.80,124.6) scale(0.836,1)">2</text>
<text x="0" y="0" font-family='"Liberation Serif", serif' font-size="16" font-style="normal" fill="#2424ff" stroke="#2424ff" stroke-width="0.2" transform="translate(1245.90,131.1) scale(0.830,1)">−</text>
<text x="0" y="0" font-family='"Liberation Serif", serif' font-size="16" font-style="normal" fill="#2424ff" stroke="#2424ff" stroke-width="0.2" transform="translate(1254.60,133.1) scale(0.858,1)">(</text>
<text x="0" y="0" font-family='"Liberation Serif", serif' font-size="16" font-style="italic" fill="#2424ff" stroke="#2424ff" stroke-width="0.2" transform="translate(1261.24,131.6) scale(0.856,1)">λ</text>
<text x="0" y="0" font-family='"Liberation Serif", serif' font-size="16" font-style="italic" fill="#2424ff" stroke="#2424ff" stroke-width="0.2" transform="translate(1266.00,131.6) scale(0.918,1)">f</text>
<text x="0" y="0" font-family='"Liberation Serif", serif' font-size="16" font-style="italic" fill="#2424ff" stroke="#2424ff" stroke-width="0.2" transform="translate(1272.18,131.6) scale(0.943,1)">y</text>
<text x="0" y="0" font-family='"Liberation Serif", serif' font-size="16" font-style="normal" fill="#2424ff" stroke="#2424ff" stroke-width="0.2" transform="translate(1280.10,133.1) scale(0.784,1)">)</text>
<text x="0" y="0" font-family='"Liberation Serif", serif' font-size="11" font-style="normal" fill="#2424ff" stroke="#2424ff" stroke-width="0.2" transform="translate(1286.00,124.6) scale(0.764,1)">2</text>
<text x="0" y="0" font-family='"Liberation Serif", serif' font-size="16" font-style="italic" fill="#2424ff" stroke="#2424ff" stroke-width="0.2" transform="translate(1293.22,131.6) scale(0.910,1)">z</text>
<text x="0" y="0" font-family='"Liberation Serif", serif' font-size="16" font-style="normal" fill="#2424ff" stroke="#2424ff" stroke-width="0.2" transform="translate(1301.00,133.1) scale(0.784,1)">)</text>
<text x="0" y="0" font-family='"Liberation Serif", serif' font-size="27" font-style="normal" fill="#2424ff" stroke="#2424ff" stroke-width="0.2" transform="translate(1309.00,152.5) scale(0.540,1)">}</text>
<text x="854.5" y="241" font-family='"Liberation Serif", serif' font-size="30.4" font-style="normal" font-weight="normal" fill="#000" textLength="202.5" lengthAdjust="spacingAndGlyphs">FFt from CUDA</text>
<text x="890" y="345.8" font-family='"Liberation Serif", serif' font-size="30.2" font-style="normal" font-weight="normal" fill="#000" textLength="138.5" lengthAdjust="spacingAndGlyphs">Ouput field</text>
<text x="884" y="379.4" font-family='"Liberation Serif", serif' font-size="25" font-style="normal" font-weight="normal" fill="#1414bc" textLength="148.0" lengthAdjust="spacingAndGlyphs"><tspan font-style="italic">U</tspan>(<tspan font-style="italic">x</tspan>,<tspan font-style="italic">y</tspan>,<tspan font-style="italic">z<tspan font-size="16" dy="3">range</tspan></tspan><tspan dy="-3">,λ)</tspan></text>
<text x="844.9" y="456.4" font-family='"Liberation Serif", serif' font-size="27.3" font-style="normal" font-weight="normal" fill="#1414bc" textLength="233.3" lengthAdjust="spacingAndGlyphs">Fitness(<tspan font-style="italic">I</tspan><tspan font-size="15" dy="3">λ</tspan><tspan dy="-3">,</tspan><tspan font-size="15">Δ</tspan><tspan font-style="italic">f</tspan>,FWHM<tspan font-size="15" dy="3">λ</tspan><tspan dy="-3">,</tspan></text>
<text x="839.5" y="488.5" font-family='"Liberation Serif", serif' font-size="27.3" font-style="normal" font-weight="normal" fill="#1414bc" textLength="243.4" lengthAdjust="spacingAndGlyphs"><tspan font-style="italic">SR</tspan><tspan font-size="15" dy="3">λ,</tspan><tspan dy="-3" font-style="italic">DOF</tspan>, <tspan font-style="italic">Intensity</tspan><tspan font-size="17" dy="3">sum</tspan><tspan dy="-3">)</tspan></text>
<text x="921.4" y="587.5" font-family='"Liberation Serif", serif' font-size="29.2" font-style="normal" font-weight="normal" fill="#000" textLength="66.6" lengthAdjust="spacingAndGlyphs">Stop?</text>
<text x="836.3" y="572.5" font-family='"Liberation Serif", serif' font-size="28" font-style="normal" font-weight="normal" fill="#000" textLength="21.2" lengthAdjust="spacingAndGlyphs">N</text>
<text x="1086" y="567.8" font-family='"Liberation Serif", serif' font-size="28" font-style="normal" font-weight="normal" fill="#000" textLength="20.9" lengthAdjust="spacingAndGlyphs">Y</text>
<text x="1137.1" y="563.3" font-family='"Liberation Serif", serif' font-size="30.3" font-style="normal" font-weight="normal" fill="#000" textLength="149.1" lengthAdjust="spacingAndGlyphs">Final design</text>
<text x="1147.3" y="609.3" font-family='"Liberation Serif", serif' font-size="20" font-style="normal" font-weight="normal" fill="#1414bc" textLength="38.0" lengthAdjust="spacingAndGlyphs">ΔΦ<tspan font-style="italic" font-size="13" dy="3.5">i</tspan><tspan dy="-3.5">,</tspan></text>
<text x="1198.6" y="609.3" font-family='"Liberation Serif", serif' font-size="20" font-style="normal" font-weight="normal" fill="#1414bc" textLength="95.0" lengthAdjust="spacingAndGlyphs"><tspan font-style="italic">i</tspan>=1,2,···,<tspan font-style="italic">Nr</tspan></text>
<defs><linearGradient id="core" x1="0" x2="1" y1="0" y2="0"><stop offset="0" stop-color="#c01000" stop-opacity="0"/><stop offset="0.18" stop-color="#b00c00" stop-opacity="0.85"/><stop offset="0.33" stop-color="#ff2800"/><stop offset="0.43" stop-color="#ffc020"/><stop offset="0.5" stop-color="#ffff80"/><stop offset="0.57" stop-color="#ffc020"/><stop offset="0.67" stop-color="#ff2800"/><stop offset="0.82" stop-color="#b00c00" stop-opacity="0.85"/><stop offset="1" stop-color="#c01000" stop-opacity="0"/></linearGradient><linearGradient id="dimred" x1="0" x2="1" y1="0" y2="0"><stop offset="0" stop-color="#a00800" stop-opacity="0"/><stop offset="0.5" stop-color="#c01000"/><stop offset="1" stop-color="#a00800" stop-opacity="0"/></linearGradient><filter id="blur1" x="-20%" y="-200%" width="140%" height="500%"><feGaussianBlur stdDeviation="0.7"/></filter></defs>
<rect x="1111.9" y="221.8" width="196.4" height="26.5" fill="#000"/>
<g filter="url(#blur1)"><line x1="1125" y1="235.1" x2="1300" y2="235.1" stroke="#4a0300" stroke-width="0.9" opacity="0.6"/><rect x="1150" y="234.2" width="40" height="1.8" fill="url(#dimred)" opacity="0.75"/><rect x="1176" y="233.8" width="64" height="2.6" fill="url(#core)"/></g>
<rect x="1111.9" y="254.8" width="196.4" height="26.5" fill="#000"/>
<g filter="url(#blur1)"><line x1="1125" y1="268.1" x2="1300" y2="268.1" stroke="#4a0300" stroke-width="0.9" opacity="0.6"/><rect x="1140" y="267.2" width="40" height="1.8" fill="url(#dimred)" opacity="0.75"/><rect x="1170" y="266.8" width="72" height="2.6" fill="url(#core)"/></g>
<rect x="1111.9" y="286.8" width="196.4" height="26.5" fill="#000"/>
<g filter="url(#blur1)"><line x1="1125" y1="300.1" x2="1300" y2="300.1" stroke="#4a0300" stroke-width="0.9" opacity="0.6"/><path d="M1180,300.1 L1115,294.1 M1180,300.1 L1115,306.1" stroke="#3a0200" stroke-width="0.8" fill="none" opacity="0.7"/><rect x="1120" y="299.2" width="55" height="1.8" fill="url(#dimred)" opacity="0.75"/><rect x="1178" y="298.8" width="60" height="2.6" fill="url(#core)"/></g>
<rect x="1111.9" y="319.4" width="196.4" height="26.5" fill="#000"/>
<g filter="url(#blur1)"><line x1="1125" y1="332.6" x2="1300" y2="332.6" stroke="#4a0300" stroke-width="0.9" opacity="0.6"/><path d="M1180,332.6 L1115,326.6 M1180,332.6 L1115,338.6" stroke="#3a0200" stroke-width="0.8" fill="none" opacity="0.7"/><rect x="1140" y="331.8" width="40" height="1.8" fill="url(#dimred)" opacity="0.75"/><rect x="1175" y="331.3" width="65" height="2.6" fill="url(#core)"/></g>
<rect x="1111.9" y="352.2" width="196.4" height="26.5" fill="#000"/>
<g filter="url(#blur1)"><line x1="1125" y1="365.4" x2="1300" y2="365.4" stroke="#4a0300" stroke-width="0.9" opacity="0.6"/><path d="M1236,365.4 L1305,359.4 M1236,365.4 L1305,371.4" stroke="#3a0200" stroke-width="0.8" fill="none" opacity="0.7"/><rect x="1150" y="364.6" width="35" height="1.8" fill="url(#dimred)" opacity="0.75"/><rect x="1180" y="364.1" width="56" height="2.6" fill="url(#core)"/></g>
<rect x="1111.9" y="393.8" width="196.4" height="26.5" fill="#000"/>
<g filter="url(#blur1)"><line x1="1125" y1="407.1" x2="1300" y2="407.1" stroke="#4a0300" stroke-width="0.9" opacity="0.6"/><path d="M1236,407.1 L1305,401.1 M1236,407.1 L1305,413.1" stroke="#3a0200" stroke-width="0.8" fill="none" opacity="0.7"/><rect x="1145" y="406.2" width="31" height="1.8" fill="url(#dimred)" opacity="0.75"/><rect x="1180" y="405.8" width="56" height="2.6" fill="url(#core)"/></g>
<rect x="1111.9" y="425.9" width="196.4" height="26.5" fill="#000"/>
<g filter="url(#blur1)"><line x1="1125" y1="439.1" x2="1300" y2="439.1" stroke="#4a0300" stroke-width="0.9" opacity="0.6"/><path d="M1180,439.1 L1115,433.1 M1180,439.1 L1115,445.1" stroke="#3a0200" stroke-width="0.8" fill="none" opacity="0.7"/><rect x="1140" y="438.2" width="40" height="1.8" fill="url(#dimred)" opacity="0.75"/><rect x="1172" y="437.8" width="72" height="2.6" fill="url(#core)"/></g>
<line x1="1208.5" y1="217" x2="1208.5" y2="456" stroke="#e8dc30" stroke-width="1.3" stroke-dasharray="3.6 3"/>
<text x="1253.0" y="243.2" font-family='"Liberation Serif", serif' font-size="25.5" fill="#fff">λ<tspan font-size="15" dy="3.5">1</tspan></text>
<text x="1253.5" y="276.2" font-family='"Liberation Serif", serif' font-size="25.5" fill="#fff">λ<tspan font-size="15" dy="3.5">2</tspan></text>
<text x="1255.5" y="308.2" font-family='"Liberation Serif", serif' font-size="25.5" fill="#fff">λ<tspan font-size="15" dy="3.5">3</tspan></text>
<text x="1254" y="340.8" font-family='"Liberation Serif", serif' font-size="25.5" fill="#fff">λ<tspan font-size="15" dy="3.5">4</tspan></text>
<text x="1255.5" y="373.6" font-family='"Liberation Serif", serif' font-size="25.5" fill="#fff">λ<tspan font-size="15" dy="3.5">5</tspan></text>
<text x="1257" y="446.3" font-family='"Liberation Serif", serif' font-size="25.5" fill="#fff">λ<tspan font-size="16" dy="4">L</tspan></text>
<line x1="1266" y1="380" x2="1266" y2="392" stroke="#999" stroke-width="1" stroke-dasharray="1 2"/>
</svg></body></html>
